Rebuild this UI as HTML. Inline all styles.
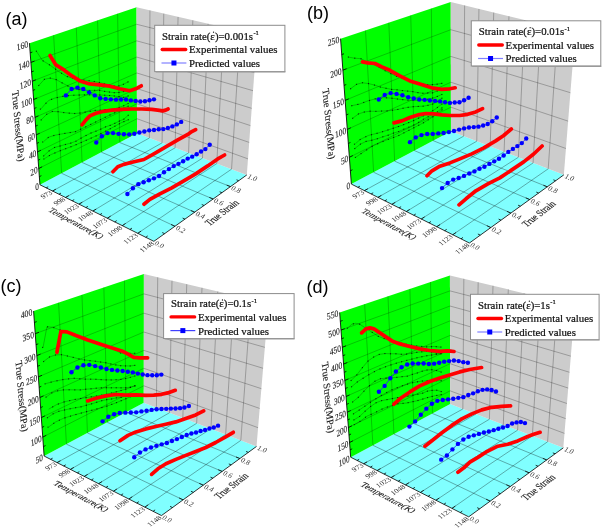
<!DOCTYPE html>
<html><head><meta charset="utf-8"><style>html,body{margin:0;padding:0;background:#fff;}svg{display:block;will-change:transform;} text{-webkit-font-smoothing:antialiased;}</style></head><body>
<svg width="602" height="528" viewBox="0 0 602 528">
<rect width="602" height="528" fill="#fff"/>
<polygon points="39.95,184.78 153.88,241.34 246.8,174.94 137.07,133.36" fill="#80ffff"/>
<polygon points="39.95,184.78 137.07,133.36 136.54,7.33 29.45,43.15" fill="#00ff00"/>
<polygon points="137.07,133.36 246.8,174.94 257.14,35.11 136.54,7.33" fill="#cccccc"/>
<line x1="38.74" y1="168.52" x2="137.01" y2="118.72" stroke="#000" stroke-opacity="0.38" stroke-width="0.6"/>
<line x1="137.01" y1="118.72" x2="247.99" y2="158.86" stroke="#000" stroke-opacity="0.42" stroke-width="0.6"/>
<line x1="37.51" y1="151.88" x2="136.95" y2="103.79" stroke="#000" stroke-opacity="0.38" stroke-width="0.6"/>
<line x1="136.95" y1="103.79" x2="249.2" y2="142.42" stroke="#000" stroke-opacity="0.42" stroke-width="0.6"/>
<line x1="36.25" y1="134.84" x2="136.88" y2="88.54" stroke="#000" stroke-opacity="0.38" stroke-width="0.6"/>
<line x1="136.88" y1="88.54" x2="250.45" y2="125.58" stroke="#000" stroke-opacity="0.42" stroke-width="0.6"/>
<line x1="34.95" y1="117.39" x2="136.82" y2="72.98" stroke="#000" stroke-opacity="0.38" stroke-width="0.6"/>
<line x1="136.82" y1="72.98" x2="251.72" y2="108.35" stroke="#000" stroke-opacity="0.42" stroke-width="0.6"/>
<line x1="33.63" y1="99.51" x2="136.75" y2="57.09" stroke="#000" stroke-opacity="0.38" stroke-width="0.6"/>
<line x1="136.75" y1="57.09" x2="253.03" y2="90.7" stroke="#000" stroke-opacity="0.42" stroke-width="0.6"/>
<line x1="32.27" y1="81.19" x2="136.68" y2="40.85" stroke="#000" stroke-opacity="0.38" stroke-width="0.6"/>
<line x1="136.68" y1="40.85" x2="254.36" y2="72.62" stroke="#000" stroke-opacity="0.42" stroke-width="0.6"/>
<line x1="30.88" y1="62.41" x2="136.61" y2="24.27" stroke="#000" stroke-opacity="0.38" stroke-width="0.6"/>
<line x1="136.61" y1="24.27" x2="255.73" y2="54.1" stroke="#000" stroke-opacity="0.42" stroke-width="0.6"/>
<line x1="61.63" y1="173.29" x2="53.61" y2="35.07" stroke="#000" stroke-opacity="0.38" stroke-width="0.6"/>
<line x1="61.63" y1="173.29" x2="174.95" y2="226.28" stroke="#000" stroke-opacity="0.55" stroke-width="0.6"/>
<line x1="82.09" y1="162.46" x2="76.27" y2="27.49" stroke="#000" stroke-opacity="0.38" stroke-width="0.6"/>
<line x1="82.09" y1="162.46" x2="194.65" y2="212.2" stroke="#000" stroke-opacity="0.55" stroke-width="0.6"/>
<line x1="101.43" y1="152.23" x2="97.57" y2="20.36" stroke="#000" stroke-opacity="0.38" stroke-width="0.6"/>
<line x1="101.43" y1="152.23" x2="213.12" y2="199" stroke="#000" stroke-opacity="0.55" stroke-width="0.6"/>
<line x1="119.73" y1="142.54" x2="117.62" y2="13.66" stroke="#000" stroke-opacity="0.38" stroke-width="0.6"/>
<line x1="119.73" y1="142.54" x2="230.47" y2="186.61" stroke="#000" stroke-opacity="0.55" stroke-width="0.6"/>
<line x1="149.39" y1="138.03" x2="149.95" y2="10.42" stroke="#000" stroke-opacity="0.42" stroke-width="0.6"/>
<line x1="52.52" y1="191.02" x2="149.39" y2="138.03" stroke="#000" stroke-opacity="0.55" stroke-width="0.6"/>
<line x1="162.08" y1="142.84" x2="163.78" y2="13.6" stroke="#000" stroke-opacity="0.42" stroke-width="0.6"/>
<line x1="65.52" y1="197.47" x2="162.08" y2="142.84" stroke="#000" stroke-opacity="0.55" stroke-width="0.6"/>
<line x1="175.14" y1="147.79" x2="178.07" y2="16.9" stroke="#000" stroke-opacity="0.42" stroke-width="0.6"/>
<line x1="78.97" y1="204.15" x2="175.14" y2="147.79" stroke="#000" stroke-opacity="0.55" stroke-width="0.6"/>
<line x1="188.6" y1="152.89" x2="192.83" y2="20.3" stroke="#000" stroke-opacity="0.42" stroke-width="0.6"/>
<line x1="92.9" y1="211.06" x2="188.6" y2="152.89" stroke="#000" stroke-opacity="0.55" stroke-width="0.6"/>
<line x1="202.48" y1="158.14" x2="208.1" y2="23.81" stroke="#000" stroke-opacity="0.42" stroke-width="0.6"/>
<line x1="107.32" y1="218.22" x2="202.48" y2="158.14" stroke="#000" stroke-opacity="0.55" stroke-width="0.6"/>
<line x1="216.79" y1="163.57" x2="223.88" y2="27.45" stroke="#000" stroke-opacity="0.42" stroke-width="0.6"/>
<line x1="122.28" y1="225.65" x2="216.79" y2="163.57" stroke="#000" stroke-opacity="0.55" stroke-width="0.6"/>
<line x1="231.56" y1="169.16" x2="240.22" y2="31.22" stroke="#000" stroke-opacity="0.42" stroke-width="0.6"/>
<line x1="137.78" y1="233.35" x2="231.56" y2="169.16" stroke="#000" stroke-opacity="0.55" stroke-width="0.6"/>
<polyline points="36.4,51.15 42.39,60.44 50.46,65.43 58.54,71.4 66.61,76.38 76.59,79.41 86.65,80.38 96.73,81.83 106.72,84.47 116.81,86.53 122.84,84.6 128.46,81.68" fill="none" stroke="#000" stroke-width="0.45" stroke-opacity="0.55"/>
<rect x="35.77" y="50.6" width="1.15" height="1.15" fill="#000" fill-opacity="0.7"/>
<rect x="42.6" y="60.36" width="1.15" height="1.15" fill="#000" fill-opacity="0.7"/>
<rect x="48.86" y="64.23" width="1.15" height="1.15" fill="#000" fill-opacity="0.7"/>
<rect x="55.02" y="68.65" width="1.15" height="1.15" fill="#000" fill-opacity="0.7"/>
<rect x="61.02" y="72.71" width="1.15" height="1.15" fill="#000" fill-opacity="0.7"/>
<rect x="66.84" y="76.05" width="1.15" height="1.15" fill="#000" fill-opacity="0.7"/>
<rect x="72.46" y="77.76" width="1.15" height="1.15" fill="#000" fill-opacity="0.7"/>
<rect x="77.95" y="79.03" width="1.15" height="1.15" fill="#000" fill-opacity="0.7"/>
<rect x="83.3" y="79.54" width="1.15" height="1.15" fill="#000" fill-opacity="0.7"/>
<rect x="88.56" y="80.17" width="1.15" height="1.15" fill="#000" fill-opacity="0.7"/>
<rect x="93.73" y="80.91" width="1.15" height="1.15" fill="#000" fill-opacity="0.7"/>
<rect x="98.82" y="81.97" width="1.15" height="1.15" fill="#000" fill-opacity="0.7"/>
<rect x="103.82" y="83.29" width="1.15" height="1.15" fill="#000" fill-opacity="0.7"/>
<rect x="108.72" y="84.43" width="1.15" height="1.15" fill="#000" fill-opacity="0.7"/>
<rect x="113.53" y="85.4" width="1.15" height="1.15" fill="#000" fill-opacity="0.7"/>
<rect x="118.23" y="85.32" width="1.15" height="1.15" fill="#000" fill-opacity="0.7"/>
<rect x="122.84" y="83.73" width="1.15" height="1.15" fill="#000" fill-opacity="0.7"/>
<rect x="127.38" y="81.38" width="1.15" height="1.15" fill="#000" fill-opacity="0.7"/>
<polyline points="41.13,108.77 45.07,104.09 48.94,100.36 54.97,98.02 63.07,96.3 71.19,95.35 81.28,94.93 91.49,94.8 101.74,95.05 111.9,95.68 118.09,96.51 123.25,97.41 126.32,96.71 128.76,95.71" fill="none" stroke="#000" stroke-width="0.45" stroke-opacity="0.55"/>
<rect x="39.83" y="108.52" width="1.15" height="1.15" fill="#000" fill-opacity="0.7"/>
<rect x="45.39" y="102.66" width="1.15" height="1.15" fill="#000" fill-opacity="0.7"/>
<rect x="51" y="98.76" width="1.15" height="1.15" fill="#000" fill-opacity="0.7"/>
<rect x="56.67" y="96.97" width="1.15" height="1.15" fill="#000" fill-opacity="0.7"/>
<rect x="62.27" y="95.78" width="1.15" height="1.15" fill="#000" fill-opacity="0.7"/>
<rect x="67.8" y="95.11" width="1.15" height="1.15" fill="#000" fill-opacity="0.7"/>
<rect x="73.25" y="94.67" width="1.15" height="1.15" fill="#000" fill-opacity="0.7"/>
<rect x="78.61" y="94.45" width="1.15" height="1.15" fill="#000" fill-opacity="0.7"/>
<rect x="83.89" y="94.32" width="1.15" height="1.15" fill="#000" fill-opacity="0.7"/>
<rect x="89.07" y="94.25" width="1.15" height="1.15" fill="#000" fill-opacity="0.7"/>
<rect x="94.17" y="94.31" width="1.15" height="1.15" fill="#000" fill-opacity="0.7"/>
<rect x="99.18" y="94.43" width="1.15" height="1.15" fill="#000" fill-opacity="0.7"/>
<rect x="104.11" y="94.66" width="1.15" height="1.15" fill="#000" fill-opacity="0.7"/>
<rect x="108.96" y="94.96" width="1.15" height="1.15" fill="#000" fill-opacity="0.7"/>
<rect x="113.72" y="95.43" width="1.15" height="1.15" fill="#000" fill-opacity="0.7"/>
<rect x="118.41" y="96.09" width="1.15" height="1.15" fill="#000" fill-opacity="0.7"/>
<rect x="123.01" y="96.76" width="1.15" height="1.15" fill="#000" fill-opacity="0.7"/>
<rect x="127.52" y="95.42" width="1.15" height="1.15" fill="#000" fill-opacity="0.7"/>
<polyline points="43.74,141.51 48.61,137.18 54.72,135.24 63.15,133.69 75.43,131.67 85.63,126.91 97.79,120.92 110.08,114.92 120.38,110.22 124.47,107.77 128.51,106.06" fill="none" stroke="#000" stroke-width="0.45" stroke-opacity="0.55"/>
<rect x="42.13" y="141.43" width="1.15" height="1.15" fill="#000" fill-opacity="0.7"/>
<rect x="47.65" y="136.95" width="1.15" height="1.15" fill="#000" fill-opacity="0.7"/>
<rect x="53.25" y="134.96" width="1.15" height="1.15" fill="#000" fill-opacity="0.7"/>
<rect x="58.8" y="133.81" width="1.15" height="1.15" fill="#000" fill-opacity="0.7"/>
<rect x="64.28" y="132.84" width="1.15" height="1.15" fill="#000" fill-opacity="0.7"/>
<rect x="69.66" y="131.95" width="1.15" height="1.15" fill="#000" fill-opacity="0.7"/>
<rect x="74.95" y="131.05" width="1.15" height="1.15" fill="#000" fill-opacity="0.7"/>
<rect x="80.09" y="128.66" width="1.15" height="1.15" fill="#000" fill-opacity="0.7"/>
<rect x="85.15" y="126.29" width="1.15" height="1.15" fill="#000" fill-opacity="0.7"/>
<rect x="90.14" y="123.84" width="1.15" height="1.15" fill="#000" fill-opacity="0.7"/>
<rect x="95.06" y="121.42" width="1.15" height="1.15" fill="#000" fill-opacity="0.7"/>
<rect x="99.9" y="119.04" width="1.15" height="1.15" fill="#000" fill-opacity="0.7"/>
<rect x="104.68" y="116.71" width="1.15" height="1.15" fill="#000" fill-opacity="0.7"/>
<rect x="109.4" y="114.41" width="1.15" height="1.15" fill="#000" fill-opacity="0.7"/>
<rect x="114.05" y="112.28" width="1.15" height="1.15" fill="#000" fill-opacity="0.7"/>
<rect x="118.64" y="110.18" width="1.15" height="1.15" fill="#000" fill-opacity="0.7"/>
<rect x="123.16" y="107.64" width="1.15" height="1.15" fill="#000" fill-opacity="0.7"/>
<rect x="127.62" y="105.63" width="1.15" height="1.15" fill="#000" fill-opacity="0.7"/>
<polyline points="44.58,158.63 50.65,154.74 60.95,150.42 73.31,145.87 85.77,140.49 98.17,134.97 110.67,128.52 121.1,122.82 128.39,119.73" fill="none" stroke="#000" stroke-width="0.45" stroke-opacity="0.55"/>
<rect x="43.32" y="158.41" width="1.15" height="1.15" fill="#000" fill-opacity="0.7"/>
<rect x="48.84" y="154.97" width="1.15" height="1.15" fill="#000" fill-opacity="0.7"/>
<rect x="54.33" y="152.39" width="1.15" height="1.15" fill="#000" fill-opacity="0.7"/>
<rect x="59.75" y="150.12" width="1.15" height="1.15" fill="#000" fill-opacity="0.7"/>
<rect x="65.11" y="148.11" width="1.15" height="1.15" fill="#000" fill-opacity="0.7"/>
<rect x="70.38" y="146.17" width="1.15" height="1.15" fill="#000" fill-opacity="0.7"/>
<rect x="75.56" y="144.08" width="1.15" height="1.15" fill="#000" fill-opacity="0.7"/>
<rect x="80.66" y="141.88" width="1.15" height="1.15" fill="#000" fill-opacity="0.7"/>
<rect x="85.68" y="139.7" width="1.15" height="1.15" fill="#000" fill-opacity="0.7"/>
<rect x="90.63" y="137.5" width="1.15" height="1.15" fill="#000" fill-opacity="0.7"/>
<rect x="95.51" y="135.33" width="1.15" height="1.15" fill="#000" fill-opacity="0.7"/>
<rect x="100.31" y="133" width="1.15" height="1.15" fill="#000" fill-opacity="0.7"/>
<rect x="105.04" y="130.56" width="1.15" height="1.15" fill="#000" fill-opacity="0.7"/>
<rect x="109.71" y="128.15" width="1.15" height="1.15" fill="#000" fill-opacity="0.7"/>
<rect x="114.31" y="125.65" width="1.15" height="1.15" fill="#000" fill-opacity="0.7"/>
<rect x="118.85" y="123.17" width="1.15" height="1.15" fill="#000" fill-opacity="0.7"/>
<rect x="123.33" y="121.06" width="1.15" height="1.15" fill="#000" fill-opacity="0.7"/>
<rect x="127.76" y="119.18" width="1.15" height="1.15" fill="#000" fill-opacity="0.7"/>
<polyline points="38.75,85.5 44.38,79.31 50.26,78.1 56.19,79.61 62.11,82.88 67.88,85.97 73.52,88.81 78.95,89.51 84.27,90.07 89.48,90.43 94.59,90.37 99.62,90.38 104.58,91.39 109.45,92.06 114.23,92.68 118.91,92.46 123.51,91.58 128.04,90.75" fill="none" stroke="#000" stroke-width="0.45" stroke-opacity="0.55"/>
<rect x="38.18" y="84.93" width="1.15" height="1.15" fill="#000" fill-opacity="0.7"/>
<rect x="43.81" y="78.74" width="1.15" height="1.15" fill="#000" fill-opacity="0.7"/>
<rect x="49.69" y="77.53" width="1.15" height="1.15" fill="#000" fill-opacity="0.7"/>
<rect x="55.62" y="79.04" width="1.15" height="1.15" fill="#000" fill-opacity="0.7"/>
<rect x="61.54" y="82.31" width="1.15" height="1.15" fill="#000" fill-opacity="0.7"/>
<rect x="67.31" y="85.4" width="1.15" height="1.15" fill="#000" fill-opacity="0.7"/>
<rect x="72.95" y="88.24" width="1.15" height="1.15" fill="#000" fill-opacity="0.7"/>
<rect x="78.38" y="88.94" width="1.15" height="1.15" fill="#000" fill-opacity="0.7"/>
<rect x="83.7" y="89.5" width="1.15" height="1.15" fill="#000" fill-opacity="0.7"/>
<rect x="88.91" y="89.86" width="1.15" height="1.15" fill="#000" fill-opacity="0.7"/>
<rect x="94.02" y="89.8" width="1.15" height="1.15" fill="#000" fill-opacity="0.7"/>
<rect x="99.05" y="89.81" width="1.15" height="1.15" fill="#000" fill-opacity="0.7"/>
<rect x="104.01" y="90.82" width="1.15" height="1.15" fill="#000" fill-opacity="0.7"/>
<rect x="108.88" y="91.49" width="1.15" height="1.15" fill="#000" fill-opacity="0.7"/>
<rect x="113.66" y="92.11" width="1.15" height="1.15" fill="#000" fill-opacity="0.7"/>
<rect x="118.34" y="91.89" width="1.15" height="1.15" fill="#000" fill-opacity="0.7"/>
<rect x="122.94" y="91.01" width="1.15" height="1.15" fill="#000" fill-opacity="0.7"/>
<rect x="127.47" y="90.18" width="1.15" height="1.15" fill="#000" fill-opacity="0.7"/>
<polyline points="41.16,119.95 46.69,114.29 52.33,111.47 58.06,111.68 63.72,112.55 69.25,113.15 74.67,113.5 79.96,113.06 85.14,112.08 90.24,111.28 95.25,110.38 100.2,110.28 105.06,109.71 109.85,109.7 114.54,108.83 119.16,107.48 123.69,105.72 128.16,103.49" fill="none" stroke="#000" stroke-width="0.45" stroke-opacity="0.55"/>
<rect x="40.59" y="119.38" width="1.15" height="1.15" fill="#000" fill-opacity="0.7"/>
<rect x="46.12" y="113.72" width="1.15" height="1.15" fill="#000" fill-opacity="0.7"/>
<rect x="51.76" y="110.9" width="1.15" height="1.15" fill="#000" fill-opacity="0.7"/>
<rect x="57.49" y="111.11" width="1.15" height="1.15" fill="#000" fill-opacity="0.7"/>
<rect x="63.15" y="111.98" width="1.15" height="1.15" fill="#000" fill-opacity="0.7"/>
<rect x="68.68" y="112.58" width="1.15" height="1.15" fill="#000" fill-opacity="0.7"/>
<rect x="74.1" y="112.93" width="1.15" height="1.15" fill="#000" fill-opacity="0.7"/>
<rect x="79.39" y="112.49" width="1.15" height="1.15" fill="#000" fill-opacity="0.7"/>
<rect x="84.57" y="111.51" width="1.15" height="1.15" fill="#000" fill-opacity="0.7"/>
<rect x="89.67" y="110.71" width="1.15" height="1.15" fill="#000" fill-opacity="0.7"/>
<rect x="94.68" y="109.81" width="1.15" height="1.15" fill="#000" fill-opacity="0.7"/>
<rect x="99.63" y="109.71" width="1.15" height="1.15" fill="#000" fill-opacity="0.7"/>
<rect x="104.49" y="109.14" width="1.15" height="1.15" fill="#000" fill-opacity="0.7"/>
<rect x="109.28" y="109.13" width="1.15" height="1.15" fill="#000" fill-opacity="0.7"/>
<rect x="113.97" y="108.26" width="1.15" height="1.15" fill="#000" fill-opacity="0.7"/>
<rect x="118.59" y="106.91" width="1.15" height="1.15" fill="#000" fill-opacity="0.7"/>
<rect x="123.12" y="105.15" width="1.15" height="1.15" fill="#000" fill-opacity="0.7"/>
<rect x="127.59" y="102.92" width="1.15" height="1.15" fill="#000" fill-opacity="0.7"/>
<polyline points="43.67,155.89 49.1,150.87 54.56,147.47 60.05,146.01 65.45,144.48 70.77,143.12 75.97,141.19 81.04,138.13 86.06,135.48 91.02,132.99 95.93,131.19 100.75,129.14 105.5,126.9 110.2,125.37 114.82,123.33 119.38,121.06 123.87,119.14 128.28,115.28" fill="none" stroke="#000" stroke-width="0.45" stroke-opacity="0.55"/>
<rect x="43.1" y="155.32" width="1.15" height="1.15" fill="#000" fill-opacity="0.7"/>
<rect x="48.53" y="150.3" width="1.15" height="1.15" fill="#000" fill-opacity="0.7"/>
<rect x="53.99" y="146.9" width="1.15" height="1.15" fill="#000" fill-opacity="0.7"/>
<rect x="59.48" y="145.44" width="1.15" height="1.15" fill="#000" fill-opacity="0.7"/>
<rect x="64.88" y="143.91" width="1.15" height="1.15" fill="#000" fill-opacity="0.7"/>
<rect x="70.2" y="142.55" width="1.15" height="1.15" fill="#000" fill-opacity="0.7"/>
<rect x="75.4" y="140.62" width="1.15" height="1.15" fill="#000" fill-opacity="0.7"/>
<rect x="80.47" y="137.56" width="1.15" height="1.15" fill="#000" fill-opacity="0.7"/>
<rect x="85.49" y="134.91" width="1.15" height="1.15" fill="#000" fill-opacity="0.7"/>
<rect x="90.45" y="132.42" width="1.15" height="1.15" fill="#000" fill-opacity="0.7"/>
<rect x="95.36" y="130.62" width="1.15" height="1.15" fill="#000" fill-opacity="0.7"/>
<rect x="100.18" y="128.57" width="1.15" height="1.15" fill="#000" fill-opacity="0.7"/>
<rect x="104.93" y="126.33" width="1.15" height="1.15" fill="#000" fill-opacity="0.7"/>
<rect x="109.63" y="124.8" width="1.15" height="1.15" fill="#000" fill-opacity="0.7"/>
<rect x="114.25" y="122.76" width="1.15" height="1.15" fill="#000" fill-opacity="0.7"/>
<rect x="118.81" y="120.49" width="1.15" height="1.15" fill="#000" fill-opacity="0.7"/>
<rect x="123.3" y="118.57" width="1.15" height="1.15" fill="#000" fill-opacity="0.7"/>
<rect x="127.71" y="114.71" width="1.15" height="1.15" fill="#000" fill-opacity="0.7"/>
<line x1="39.95" y1="184.78" x2="29.45" y2="43.15" stroke="#000" stroke-width="0.85"/>
<line x1="39.95" y1="184.78" x2="153.88" y2="241.34" stroke="#000" stroke-width="0.8"/>
<line x1="153.88" y1="241.34" x2="246.8" y2="174.94" stroke="#000" stroke-width="0.8"/>
<line x1="46.18" y1="187.87" x2="48.19" y2="186.79" stroke="#000" stroke-width="0.8"/>
<line x1="52.52" y1="191.02" x2="55.85" y2="189.19" stroke="#000" stroke-width="0.8"/>
<line x1="58.96" y1="194.22" x2="60.97" y2="193.1" stroke="#000" stroke-width="0.8"/>
<line x1="65.52" y1="197.47" x2="68.85" y2="195.59" stroke="#000" stroke-width="0.8"/>
<line x1="72.19" y1="200.78" x2="74.19" y2="199.63" stroke="#000" stroke-width="0.8"/>
<line x1="78.97" y1="204.15" x2="82.3" y2="202.2" stroke="#000" stroke-width="0.8"/>
<line x1="85.87" y1="207.57" x2="87.87" y2="206.38" stroke="#000" stroke-width="0.8"/>
<line x1="92.9" y1="211.06" x2="96.21" y2="209.05" stroke="#000" stroke-width="0.8"/>
<line x1="100.05" y1="214.61" x2="102.04" y2="213.38" stroke="#000" stroke-width="0.8"/>
<line x1="107.32" y1="218.22" x2="110.63" y2="216.14" stroke="#000" stroke-width="0.8"/>
<line x1="114.73" y1="221.9" x2="116.71" y2="220.62" stroke="#000" stroke-width="0.8"/>
<line x1="122.28" y1="225.65" x2="125.57" y2="223.48" stroke="#000" stroke-width="0.8"/>
<line x1="129.96" y1="229.46" x2="131.93" y2="228.14" stroke="#000" stroke-width="0.8"/>
<line x1="137.78" y1="233.35" x2="141.06" y2="231.11" stroke="#000" stroke-width="0.8"/>
<line x1="145.76" y1="237.3" x2="147.72" y2="235.93" stroke="#000" stroke-width="0.8"/>
<line x1="164.59" y1="233.68" x2="162.25" y2="232.55" stroke="#000" stroke-width="0.8"/>
<line x1="174.95" y1="226.28" x2="171.07" y2="224.47" stroke="#000" stroke-width="0.8"/>
<line x1="184.96" y1="219.13" x2="182.64" y2="218.07" stroke="#000" stroke-width="0.8"/>
<line x1="194.65" y1="212.2" x2="190.81" y2="210.51" stroke="#000" stroke-width="0.8"/>
<line x1="204.03" y1="205.5" x2="201.74" y2="204.51" stroke="#000" stroke-width="0.8"/>
<line x1="213.12" y1="199" x2="209.33" y2="197.41" stroke="#000" stroke-width="0.8"/>
<line x1="221.93" y1="192.71" x2="219.66" y2="191.78" stroke="#000" stroke-width="0.8"/>
<line x1="230.47" y1="186.61" x2="226.72" y2="185.11" stroke="#000" stroke-width="0.8"/>
<line x1="238.76" y1="180.69" x2="236.52" y2="179.82" stroke="#000" stroke-width="0.8"/>
<line x1="39.35" y1="176.69" x2="41.37" y2="175.65" stroke="#000" stroke-width="0.8"/>
<line x1="38.74" y1="168.52" x2="42.12" y2="166.81" stroke="#000" stroke-width="0.8"/>
<line x1="38.13" y1="160.25" x2="40.17" y2="159.24" stroke="#000" stroke-width="0.8"/>
<line x1="37.51" y1="151.88" x2="40.93" y2="150.22" stroke="#000" stroke-width="0.8"/>
<line x1="36.88" y1="143.41" x2="38.95" y2="142.43" stroke="#000" stroke-width="0.8"/>
<line x1="36.25" y1="134.84" x2="39.72" y2="133.24" stroke="#000" stroke-width="0.8"/>
<line x1="35.6" y1="126.17" x2="37.7" y2="125.23" stroke="#000" stroke-width="0.8"/>
<line x1="34.95" y1="117.39" x2="38.47" y2="115.86" stroke="#000" stroke-width="0.8"/>
<line x1="34.29" y1="108.51" x2="36.42" y2="107.6" stroke="#000" stroke-width="0.8"/>
<line x1="33.63" y1="99.51" x2="37.2" y2="98.05" stroke="#000" stroke-width="0.8"/>
<line x1="32.95" y1="90.41" x2="35.11" y2="89.55" stroke="#000" stroke-width="0.8"/>
<line x1="32.27" y1="81.19" x2="35.89" y2="79.79" stroke="#000" stroke-width="0.8"/>
<line x1="31.58" y1="71.86" x2="33.77" y2="71.04" stroke="#000" stroke-width="0.8"/>
<line x1="30.88" y1="62.41" x2="34.55" y2="61.09" stroke="#000" stroke-width="0.8"/>
<line x1="30.17" y1="52.84" x2="32.39" y2="52.07" stroke="#000" stroke-width="0.8"/>
<polyline points="50,55.5 55.9,64.9 63.9,69.9 71.9,75.9 79.9,80.9 89.8,83.9 99.8,84.8 109.8,86.2 119.7,88.8 129.7,90.8 135.7,88.8 141.3,85.8" fill="none" stroke="#ff0000" stroke-width="3.7" stroke-linecap="round" stroke-linejoin="round"/>
<polyline points="65.9,95.4 71.58,88.93 77.43,87.6 83.29,89.06 89.09,92.34 94.75,95.42 100.28,98.26 105.63,98.88 110.87,99.37 116.01,99.65 121.05,99.51 126.01,99.44 130.88,100.4 135.66,101.01 140.35,101.57 144.96,101.26 149.49,100.29 153.96,99.36" fill="none" stroke="#2020ff" stroke-width="0.8"/>
<circle cx="65.9" cy="95.4" r="2.2" fill="#0000ff"/>
<circle cx="71.58" cy="88.93" r="2.2" fill="#0000ff"/>
<circle cx="77.43" cy="87.6" r="2.2" fill="#0000ff"/>
<circle cx="83.29" cy="89.06" r="2.2" fill="#0000ff"/>
<circle cx="89.09" cy="92.34" r="2.2" fill="#0000ff"/>
<circle cx="94.75" cy="95.42" r="2.2" fill="#0000ff"/>
<circle cx="100.28" cy="98.26" r="2.2" fill="#0000ff"/>
<circle cx="105.63" cy="98.88" r="2.2" fill="#0000ff"/>
<circle cx="110.87" cy="99.37" r="2.2" fill="#0000ff"/>
<circle cx="116.01" cy="99.65" r="2.2" fill="#0000ff"/>
<circle cx="121.05" cy="99.51" r="2.2" fill="#0000ff"/>
<circle cx="126.01" cy="99.44" r="2.2" fill="#0000ff"/>
<circle cx="130.88" cy="100.4" r="2.2" fill="#0000ff"/>
<circle cx="135.66" cy="101.01" r="2.2" fill="#0000ff"/>
<circle cx="140.35" cy="101.57" r="2.2" fill="#0000ff"/>
<circle cx="144.96" cy="101.26" r="2.2" fill="#0000ff"/>
<circle cx="149.49" cy="100.29" r="2.2" fill="#0000ff"/>
<circle cx="153.96" cy="99.36" r="2.2" fill="#0000ff"/>
<polyline points="82,124.9 86,119.9 89.9,115.9 95.9,113.3 103.9,111.3 111.9,110.1 121.8,109.4 131.8,109 141.8,109 151.7,109.4 157.7,110.1 162.7,110.9 165.7,110.1 168.1,109" fill="none" stroke="#ff0000" stroke-width="3.7" stroke-linecap="round" stroke-linejoin="round"/>
<polyline points="96.28,142.52 101.88,136.31 107.48,133.11 113.07,133.12 118.55,133.83 123.92,134.25 129.18,134.42 134.33,133.75 139.38,132.52 144.34,131.49 149.22,130.35 154.01,130.07 158.72,129.29 163.34,129.1 167.89,128.01 172.38,126.42 176.81,124.41 181.18,121.91" fill="none" stroke="#2020ff" stroke-width="0.8"/>
<circle cx="96.28" cy="142.52" r="2.2" fill="#0000ff"/>
<circle cx="101.88" cy="136.31" r="2.2" fill="#0000ff"/>
<circle cx="107.48" cy="133.11" r="2.2" fill="#0000ff"/>
<circle cx="113.07" cy="133.12" r="2.2" fill="#0000ff"/>
<circle cx="118.55" cy="133.83" r="2.2" fill="#0000ff"/>
<circle cx="123.92" cy="134.25" r="2.2" fill="#0000ff"/>
<circle cx="129.18" cy="134.42" r="2.2" fill="#0000ff"/>
<circle cx="134.33" cy="133.75" r="2.2" fill="#0000ff"/>
<circle cx="139.38" cy="132.52" r="2.2" fill="#0000ff"/>
<circle cx="144.34" cy="131.49" r="2.2" fill="#0000ff"/>
<circle cx="149.22" cy="130.35" r="2.2" fill="#0000ff"/>
<circle cx="154.01" cy="130.07" r="2.2" fill="#0000ff"/>
<circle cx="158.72" cy="129.29" r="2.2" fill="#0000ff"/>
<circle cx="163.34" cy="129.1" r="2.2" fill="#0000ff"/>
<circle cx="167.89" cy="128.01" r="2.2" fill="#0000ff"/>
<circle cx="172.38" cy="126.42" r="2.2" fill="#0000ff"/>
<circle cx="176.81" cy="124.41" r="2.2" fill="#0000ff"/>
<circle cx="181.18" cy="121.91" r="2.2" fill="#0000ff"/>
<polyline points="112.9,171.7 117.8,166.8 123.8,164.4 132,162.3 143.9,159.5 153.9,153.9 165.8,146.9 177.8,139.9 187.8,134.4 191.8,131.6 195.7,129.6" fill="none" stroke="#ff0000" stroke-width="3.7" stroke-linecap="round" stroke-linejoin="round"/>
<polyline points="127.42,194.05 132.9,188.23 138.3,184.16 143.62,182.21 148.85,180.2 153.98,178.37 159.03,175.94 164.01,172.29 168.91,169.1 173.73,166.09 178.46,163.83 183.12,161.32 187.71,158.6 192.21,156.67 196.65,154.18 201.04,151.46 205.35,149.11 209.7,144.7" fill="none" stroke="#2020ff" stroke-width="0.8"/>
<circle cx="127.42" cy="194.05" r="2.2" fill="#0000ff"/>
<circle cx="132.9" cy="188.23" r="2.2" fill="#0000ff"/>
<circle cx="138.3" cy="184.16" r="2.2" fill="#0000ff"/>
<circle cx="143.62" cy="182.21" r="2.2" fill="#0000ff"/>
<circle cx="148.85" cy="180.2" r="2.2" fill="#0000ff"/>
<circle cx="153.98" cy="178.37" r="2.2" fill="#0000ff"/>
<circle cx="159.03" cy="175.94" r="2.2" fill="#0000ff"/>
<circle cx="164.01" cy="172.29" r="2.2" fill="#0000ff"/>
<circle cx="168.91" cy="169.1" r="2.2" fill="#0000ff"/>
<circle cx="173.73" cy="166.09" r="2.2" fill="#0000ff"/>
<circle cx="178.46" cy="163.83" r="2.2" fill="#0000ff"/>
<circle cx="183.12" cy="161.32" r="2.2" fill="#0000ff"/>
<circle cx="187.71" cy="158.6" r="2.2" fill="#0000ff"/>
<circle cx="192.21" cy="156.67" r="2.2" fill="#0000ff"/>
<circle cx="196.65" cy="154.18" r="2.2" fill="#0000ff"/>
<circle cx="201.04" cy="151.46" r="2.2" fill="#0000ff"/>
<circle cx="205.35" cy="149.11" r="2.2" fill="#0000ff"/>
<circle cx="209.7" cy="144.7" r="2.2" fill="#0000ff"/>
<polyline points="143.9,204.2 149.9,199.4 159.9,193.8 171.8,187.8 183.8,180.9 195.7,173.9 207.7,165.9 217.7,158.9 224.6,155" fill="none" stroke="#ff0000" stroke-width="3.7" stroke-linecap="round" stroke-linejoin="round"/>
<text transform="matrix(0.75,-0.4,0.07,1,39.95,184.78)" x="-1.6" y="3.4" text-anchor="end" font-family="Liberation Serif" font-size="9.5" fill="#1a1a1a" stroke="#1a1a1a" stroke-width="0.12" >0</text>
<text transform="matrix(0.76,-0.38,0.07,1,38.74,168.52)" x="-1.6" y="3.4" text-anchor="end" font-family="Liberation Serif" font-size="9.5" fill="#1a1a1a" stroke="#1a1a1a" stroke-width="0.12" >20</text>
<text transform="matrix(0.77,-0.37,0.07,1,37.51,151.88)" x="-1.6" y="3.4" text-anchor="end" font-family="Liberation Serif" font-size="9.5" fill="#1a1a1a" stroke="#1a1a1a" stroke-width="0.12" >40</text>
<text transform="matrix(0.77,-0.36,0.07,1,36.25,134.84)" x="-1.6" y="3.4" text-anchor="end" font-family="Liberation Serif" font-size="9.5" fill="#1a1a1a" stroke="#1a1a1a" stroke-width="0.12" >60</text>
<text transform="matrix(0.78,-0.34,0.07,1,34.95,117.39)" x="-1.6" y="3.4" text-anchor="end" font-family="Liberation Serif" font-size="9.5" fill="#1a1a1a" stroke="#1a1a1a" stroke-width="0.12" >80</text>
<text transform="matrix(0.79,-0.32,0.07,1,33.63,99.51)" x="-1.6" y="3.4" text-anchor="end" font-family="Liberation Serif" font-size="9.5" fill="#1a1a1a" stroke="#1a1a1a" stroke-width="0.12" >100</text>
<text transform="matrix(0.79,-0.31,0.07,1,32.27,81.19)" x="-1.6" y="3.4" text-anchor="end" font-family="Liberation Serif" font-size="9.5" fill="#1a1a1a" stroke="#1a1a1a" stroke-width="0.12" >120</text>
<text transform="matrix(0.8,-0.29,0.07,1,30.88,62.41)" x="-1.6" y="3.4" text-anchor="end" font-family="Liberation Serif" font-size="9.5" fill="#1a1a1a" stroke="#1a1a1a" stroke-width="0.12" >140</text>
<text transform="matrix(0.81,-0.27,0.07,1,29.45,43.15)" x="-1.6" y="3.4" text-anchor="end" font-family="Liberation Serif" font-size="9.5" fill="#1a1a1a" stroke="#1a1a1a" stroke-width="0.12" >160</text>
<text transform="matrix(0.83,-0.46,0.65,0.62,51.18,191.75)" x="0" y="3" text-anchor="end" font-family="Liberation Serif" font-size="8" fill="#2a2a2a" stroke="#2a2a2a" stroke-width="0" >973</text>
<text transform="matrix(0.83,-0.47,0.65,0.62,64.18,198.23)" x="0" y="3" text-anchor="end" font-family="Liberation Serif" font-size="8" fill="#2a2a2a" stroke="#2a2a2a" stroke-width="0" >998</text>
<text transform="matrix(0.82,-0.48,0.66,0.61,77.63,204.93)" x="0" y="3" text-anchor="end" font-family="Liberation Serif" font-size="8" fill="#2a2a2a" stroke="#2a2a2a" stroke-width="0" >1023</text>
<text transform="matrix(0.81,-0.49,0.66,0.61,91.56,211.87)" x="0" y="3" text-anchor="end" font-family="Liberation Serif" font-size="8" fill="#2a2a2a" stroke="#2a2a2a" stroke-width="0" >1048</text>
<text transform="matrix(0.8,-0.51,0.67,0.6,105.99,219.06)" x="0" y="3" text-anchor="end" font-family="Liberation Serif" font-size="8" fill="#2a2a2a" stroke="#2a2a2a" stroke-width="0" >1073</text>
<text transform="matrix(0.79,-0.52,0.67,0.6,120.95,226.52)" x="0" y="3" text-anchor="end" font-family="Liberation Serif" font-size="8" fill="#2a2a2a" stroke="#2a2a2a" stroke-width="0" >1098</text>
<text transform="matrix(0.78,-0.54,0.68,0.59,136.47,234.25)" x="0" y="3" text-anchor="end" font-family="Liberation Serif" font-size="8" fill="#2a2a2a" stroke="#2a2a2a" stroke-width="0" >1123</text>
<text transform="matrix(0.77,-0.55,0.68,0.58,152.57,242.27)" x="0" y="3" text-anchor="end" font-family="Liberation Serif" font-size="8" fill="#2a2a2a" stroke="#2a2a2a" stroke-width="0" >1148</text>
<text transform="matrix(0.85,0.42,-0.58,0.75,155.59,242.19)" x="0" y="3" text-anchor="start" font-family="Liberation Serif" font-size="7.8" fill="#333" stroke="#333" stroke-width="0" >0.0</text>
<text transform="matrix(0.86,0.4,-0.57,0.76,176.64,227.08)" x="0" y="3" text-anchor="start" font-family="Liberation Serif" font-size="7.8" fill="#333" stroke="#333" stroke-width="0" >0.2</text>
<text transform="matrix(0.87,0.38,-0.56,0.77,196.33,212.94)" x="0" y="3" text-anchor="start" font-family="Liberation Serif" font-size="7.8" fill="#333" stroke="#333" stroke-width="0" >0.4</text>
<text transform="matrix(0.88,0.37,-0.55,0.78,214.78,199.7)" x="0" y="3" text-anchor="start" font-family="Liberation Serif" font-size="7.8" fill="#333" stroke="#333" stroke-width="0" >0.6</text>
<text transform="matrix(0.88,0.35,-0.54,0.78,232.11,187.26)" x="0" y="3" text-anchor="start" font-family="Liberation Serif" font-size="7.8" fill="#333" stroke="#333" stroke-width="0" >0.8</text>
<text transform="matrix(0.89,0.34,-0.53,0.79,248.41,175.55)" x="0" y="3" text-anchor="start" font-family="Liberation Serif" font-size="7.8" fill="#333" stroke="#333" stroke-width="0" >1.0</text>
<text transform="matrix(0.88,0.47,-0.85,0.52,73.43,224.83)" x="0" y="0" text-anchor="middle" font-family="Liberation Serif" font-size="9.3" fill="#1a1a1a" stroke="#1a1a1a" stroke-width="0.12" >Temperature(K)</text>
<text transform="matrix(0.77,-0.59,0.94,0.74,224.49,214.84)" x="0" y="0" text-anchor="middle" font-family="Liberation Serif" font-size="8.7" fill="#1a1a1a" stroke="#1a1a1a" stroke-width="0.12" >True Strain</text>
<text transform="matrix(0.09,1,-0.97,0.25,15.05,126.82)" x="0" y="0" text-anchor="middle" font-family="Liberation Serif" font-size="10" fill="#1a1a1a" stroke="#1a1a1a" stroke-width="0.12" >True Stress(MPa)</text>
<rect x="154.7" y="25.3" width="130.2" height="46.3" fill="#fff" stroke="#8c8c8c" stroke-width="1"/>
<line x1="155.7" y1="71.9" x2="285.4" y2="71.9" stroke="#9a9a9a" stroke-width="1.2"/>
<text x="162.1" y="39.6" font-family="Liberation Serif" font-size="10.8" fill="#111" stroke="#111" stroke-width="0.22">Strain rate(&#949;)=0.001s<tspan dx="0.3" dy="-4.2" font-size="6.5">-1</tspan></text>
<circle cx="213.55" cy="32.2" r="0.65" fill="#111"/>
<line x1="162.2" y1="49.5" x2="185.7" y2="49.5" stroke="#ff0000" stroke-width="3.4" stroke-linecap="round"/>
<text x="189" y="53.3" font-family="Liberation Serif" font-size="10.8" fill="#111" stroke="#111" stroke-width="0.22">Experimental values</text>
<line x1="161.5" y1="63" x2="186.4" y2="63" stroke="#8080ff" stroke-width="1.2"/>
<rect x="171.45" y="60.5" width="5" height="5" fill="#0000ff"/>
<text x="189" y="66.8" font-family="Liberation Serif" font-size="10.8" fill="#111" stroke="#111" stroke-width="0.22">Predicted values</text>
<text x="5.5" y="24.6" font-family="Liberation Sans" font-size="18">(a)</text>
<polygon points="351.35,184.08 469.38,243.04 563.85,174.84 450.97,131.25" fill="#80ffff"/>
<polygon points="351.35,184.08 450.97,131.25 450.74,2.03 340.55,38.65" fill="#00ff00"/>
<polygon points="450.97,131.25 563.85,174.84 575.22,32.33 450.74,2.03" fill="#cccccc"/>
<line x1="349.36" y1="157.27" x2="450.93" y2="107.16" stroke="#000" stroke-opacity="0.38" stroke-width="0.6"/>
<line x1="450.93" y1="107.16" x2="565.95" y2="148.51" stroke="#000" stroke-opacity="0.42" stroke-width="0.6"/>
<line x1="347.29" y1="129.38" x2="450.88" y2="82.23" stroke="#000" stroke-opacity="0.38" stroke-width="0.6"/>
<line x1="450.88" y1="82.23" x2="568.13" y2="121.15" stroke="#000" stroke-opacity="0.42" stroke-width="0.6"/>
<line x1="345.13" y1="100.36" x2="450.84" y2="56.43" stroke="#000" stroke-opacity="0.38" stroke-width="0.6"/>
<line x1="450.84" y1="56.43" x2="570.4" y2="92.71" stroke="#000" stroke-opacity="0.42" stroke-width="0.6"/>
<line x1="342.89" y1="70.14" x2="450.79" y2="29.71" stroke="#000" stroke-opacity="0.38" stroke-width="0.6"/>
<line x1="450.79" y1="29.71" x2="572.76" y2="63.13" stroke="#000" stroke-opacity="0.42" stroke-width="0.6"/>
<line x1="373.63" y1="172.27" x2="365.47" y2="30.37" stroke="#000" stroke-opacity="0.38" stroke-width="0.6"/>
<line x1="373.63" y1="172.27" x2="490.83" y2="227.55" stroke="#000" stroke-opacity="0.55" stroke-width="0.6"/>
<line x1="394.64" y1="161.13" x2="388.81" y2="22.61" stroke="#000" stroke-opacity="0.38" stroke-width="0.6"/>
<line x1="394.64" y1="161.13" x2="510.88" y2="213.08" stroke="#000" stroke-opacity="0.55" stroke-width="0.6"/>
<line x1="414.46" y1="150.61" x2="410.72" y2="15.33" stroke="#000" stroke-opacity="0.38" stroke-width="0.6"/>
<line x1="414.46" y1="150.61" x2="529.65" y2="199.53" stroke="#000" stroke-opacity="0.55" stroke-width="0.6"/>
<line x1="433.21" y1="140.67" x2="431.33" y2="8.48" stroke="#000" stroke-opacity="0.38" stroke-width="0.6"/>
<line x1="433.21" y1="140.67" x2="547.28" y2="186.8" stroke="#000" stroke-opacity="0.55" stroke-width="0.6"/>
<line x1="463.69" y1="136.17" x2="464.63" y2="5.41" stroke="#000" stroke-opacity="0.42" stroke-width="0.6"/>
<line x1="364.43" y1="190.61" x2="463.69" y2="136.17" stroke="#000" stroke-opacity="0.55" stroke-width="0.6"/>
<line x1="476.78" y1="141.22" x2="478.95" y2="8.9" stroke="#000" stroke-opacity="0.42" stroke-width="0.6"/>
<line x1="377.94" y1="197.36" x2="476.78" y2="141.22" stroke="#000" stroke-opacity="0.55" stroke-width="0.6"/>
<line x1="490.24" y1="146.42" x2="493.73" y2="12.49" stroke="#000" stroke-opacity="0.42" stroke-width="0.6"/>
<line x1="391.9" y1="204.33" x2="490.24" y2="146.42" stroke="#000" stroke-opacity="0.55" stroke-width="0.6"/>
<line x1="504.1" y1="151.77" x2="508.98" y2="16.2" stroke="#000" stroke-opacity="0.42" stroke-width="0.6"/>
<line x1="406.34" y1="211.55" x2="504.1" y2="151.77" stroke="#000" stroke-opacity="0.55" stroke-width="0.6"/>
<line x1="518.37" y1="157.28" x2="524.72" y2="20.04" stroke="#000" stroke-opacity="0.42" stroke-width="0.6"/>
<line x1="421.28" y1="219.01" x2="518.37" y2="157.28" stroke="#000" stroke-opacity="0.55" stroke-width="0.6"/>
<line x1="533.07" y1="162.96" x2="541" y2="24" stroke="#000" stroke-opacity="0.42" stroke-width="0.6"/>
<line x1="436.74" y1="226.73" x2="533.07" y2="162.96" stroke="#000" stroke-opacity="0.55" stroke-width="0.6"/>
<line x1="548.23" y1="168.81" x2="557.82" y2="28.09" stroke="#000" stroke-opacity="0.42" stroke-width="0.6"/>
<line x1="452.77" y1="234.74" x2="548.23" y2="168.81" stroke="#000" stroke-opacity="0.55" stroke-width="0.6"/>
<polyline points="348.29,57.06 353.82,58.09 360.86,58.73 367.92,62.13 376,65.55 386.01,71.15 396.12,76.16 406.22,79.2 418.25,83.15 428.35,84.81 436.42,84.29 441.96,83.34" fill="none" stroke="#000" stroke-width="0.45" stroke-opacity="0.55"/>
<rect x="347.8" y="56.5" width="1.15" height="1.15" fill="#000" fill-opacity="0.7"/>
<rect x="354.2" y="57.6" width="1.15" height="1.15" fill="#000" fill-opacity="0.7"/>
<rect x="360.45" y="58.24" width="1.15" height="1.15" fill="#000" fill-opacity="0.7"/>
<rect x="366.71" y="61.25" width="1.15" height="1.15" fill="#000" fill-opacity="0.7"/>
<rect x="372.8" y="63.87" width="1.15" height="1.15" fill="#000" fill-opacity="0.7"/>
<rect x="378.79" y="66.86" width="1.15" height="1.15" fill="#000" fill-opacity="0.7"/>
<rect x="384.66" y="70.14" width="1.15" height="1.15" fill="#000" fill-opacity="0.7"/>
<rect x="390.38" y="73.03" width="1.15" height="1.15" fill="#000" fill-opacity="0.7"/>
<rect x="395.98" y="75.72" width="1.15" height="1.15" fill="#000" fill-opacity="0.7"/>
<rect x="401.41" y="77.36" width="1.15" height="1.15" fill="#000" fill-opacity="0.7"/>
<rect x="406.74" y="78.99" width="1.15" height="1.15" fill="#000" fill-opacity="0.7"/>
<rect x="411.97" y="80.71" width="1.15" height="1.15" fill="#000" fill-opacity="0.7"/>
<rect x="417.1" y="82.39" width="1.15" height="1.15" fill="#000" fill-opacity="0.7"/>
<rect x="422.11" y="83.31" width="1.15" height="1.15" fill="#000" fill-opacity="0.7"/>
<rect x="427.03" y="84.12" width="1.15" height="1.15" fill="#000" fill-opacity="0.7"/>
<rect x="431.84" y="83.98" width="1.15" height="1.15" fill="#000" fill-opacity="0.7"/>
<rect x="436.57" y="83.59" width="1.15" height="1.15" fill="#000" fill-opacity="0.7"/>
<rect x="441.22" y="82.8" width="1.15" height="1.15" fill="#000" fill-opacity="0.7"/>
<polyline points="351.43,105.78 359.44,104.08 367.51,101.03 375.62,98.75 383.67,97.62 391.88,98.22 400.12,99.4 408.35,100.2 418.54,100.47 426.76,99.53 434.95,97.43 441.98,94.43" fill="none" stroke="#000" stroke-width="0.45" stroke-opacity="0.55"/>
<rect x="351.21" y="105.14" width="1.15" height="1.15" fill="#000" fill-opacity="0.7"/>
<rect x="357.25" y="103.85" width="1.15" height="1.15" fill="#000" fill-opacity="0.7"/>
<rect x="363.14" y="101.9" width="1.15" height="1.15" fill="#000" fill-opacity="0.7"/>
<rect x="368.93" y="99.9" width="1.15" height="1.15" fill="#000" fill-opacity="0.7"/>
<rect x="374.65" y="98.29" width="1.15" height="1.15" fill="#000" fill-opacity="0.7"/>
<rect x="380.31" y="97.44" width="1.15" height="1.15" fill="#000" fill-opacity="0.7"/>
<rect x="385.9" y="97.25" width="1.15" height="1.15" fill="#000" fill-opacity="0.7"/>
<rect x="391.42" y="97.67" width="1.15" height="1.15" fill="#000" fill-opacity="0.7"/>
<rect x="396.85" y="98.44" width="1.15" height="1.15" fill="#000" fill-opacity="0.7"/>
<rect x="402.17" y="99.09" width="1.15" height="1.15" fill="#000" fill-opacity="0.7"/>
<rect x="407.39" y="99.59" width="1.15" height="1.15" fill="#000" fill-opacity="0.7"/>
<rect x="412.5" y="99.75" width="1.15" height="1.15" fill="#000" fill-opacity="0.7"/>
<rect x="417.52" y="99.89" width="1.15" height="1.15" fill="#000" fill-opacity="0.7"/>
<rect x="422.45" y="99.39" width="1.15" height="1.15" fill="#000" fill-opacity="0.7"/>
<rect x="427.28" y="98.68" width="1.15" height="1.15" fill="#000" fill-opacity="0.7"/>
<rect x="432.03" y="97.46" width="1.15" height="1.15" fill="#000" fill-opacity="0.7"/>
<rect x="436.71" y="95.87" width="1.15" height="1.15" fill="#000" fill-opacity="0.7"/>
<rect x="441.31" y="93.9" width="1.15" height="1.15" fill="#000" fill-opacity="0.7"/>
<polyline points="355.37,143.77 360.35,139.35 368.39,135.45 378.71,132.89 389.02,129.66 401.32,125.57 413.71,120.54 425.98,114.54 434.21,109.84 441.98,104.07" fill="none" stroke="#000" stroke-width="0.45" stroke-opacity="0.55"/>
<rect x="353.9" y="143.63" width="1.15" height="1.15" fill="#000" fill-opacity="0.7"/>
<rect x="359.56" y="138.98" width="1.15" height="1.15" fill="#000" fill-opacity="0.7"/>
<rect x="365.25" y="136.13" width="1.15" height="1.15" fill="#000" fill-opacity="0.7"/>
<rect x="370.9" y="134.12" width="1.15" height="1.15" fill="#000" fill-opacity="0.7"/>
<rect x="376.49" y="132.73" width="1.15" height="1.15" fill="#000" fill-opacity="0.7"/>
<rect x="381.98" y="131.11" width="1.15" height="1.15" fill="#000" fill-opacity="0.7"/>
<rect x="387.38" y="129.42" width="1.15" height="1.15" fill="#000" fill-opacity="0.7"/>
<rect x="392.68" y="127.68" width="1.15" height="1.15" fill="#000" fill-opacity="0.7"/>
<rect x="397.9" y="125.95" width="1.15" height="1.15" fill="#000" fill-opacity="0.7"/>
<rect x="403.04" y="124.07" width="1.15" height="1.15" fill="#000" fill-opacity="0.7"/>
<rect x="408.09" y="122.02" width="1.15" height="1.15" fill="#000" fill-opacity="0.7"/>
<rect x="413.06" y="120" width="1.15" height="1.15" fill="#000" fill-opacity="0.7"/>
<rect x="417.95" y="117.61" width="1.15" height="1.15" fill="#000" fill-opacity="0.7"/>
<rect x="422.78" y="115.26" width="1.15" height="1.15" fill="#000" fill-opacity="0.7"/>
<rect x="427.53" y="112.76" width="1.15" height="1.15" fill="#000" fill-opacity="0.7"/>
<rect x="432.21" y="110.08" width="1.15" height="1.15" fill="#000" fill-opacity="0.7"/>
<rect x="436.83" y="106.9" width="1.15" height="1.15" fill="#000" fill-opacity="0.7"/>
<rect x="441.39" y="103.51" width="1.15" height="1.15" fill="#000" fill-opacity="0.7"/>
<polyline points="356,157.08 363.11,152.17 373.23,145.65 385.74,140.29 398.26,135.73 410.79,129.31 423.27,122.86 433.71,116.32 442.4,109.55" fill="none" stroke="#000" stroke-width="0.45" stroke-opacity="0.55"/>
<rect x="354.82" y="156.82" width="1.15" height="1.15" fill="#000" fill-opacity="0.7"/>
<rect x="360.48" y="153.02" width="1.15" height="1.15" fill="#000" fill-opacity="0.7"/>
<rect x="366.06" y="149.33" width="1.15" height="1.15" fill="#000" fill-opacity="0.7"/>
<rect x="371.57" y="145.78" width="1.15" height="1.15" fill="#000" fill-opacity="0.7"/>
<rect x="377.06" y="143.19" width="1.15" height="1.15" fill="#000" fill-opacity="0.7"/>
<rect x="382.47" y="140.88" width="1.15" height="1.15" fill="#000" fill-opacity="0.7"/>
<rect x="387.81" y="138.76" width="1.15" height="1.15" fill="#000" fill-opacity="0.7"/>
<rect x="393.07" y="136.84" width="1.15" height="1.15" fill="#000" fill-opacity="0.7"/>
<rect x="398.25" y="134.88" width="1.15" height="1.15" fill="#000" fill-opacity="0.7"/>
<rect x="403.32" y="132.28" width="1.15" height="1.15" fill="#000" fill-opacity="0.7"/>
<rect x="408.33" y="129.72" width="1.15" height="1.15" fill="#000" fill-opacity="0.7"/>
<rect x="413.26" y="127.17" width="1.15" height="1.15" fill="#000" fill-opacity="0.7"/>
<rect x="418.12" y="124.66" width="1.15" height="1.15" fill="#000" fill-opacity="0.7"/>
<rect x="422.92" y="122.15" width="1.15" height="1.15" fill="#000" fill-opacity="0.7"/>
<rect x="427.64" y="119.2" width="1.15" height="1.15" fill="#000" fill-opacity="0.7"/>
<rect x="432.3" y="116.28" width="1.15" height="1.15" fill="#000" fill-opacity="0.7"/>
<rect x="436.9" y="112.83" width="1.15" height="1.15" fill="#000" fill-opacity="0.7"/>
<rect x="441.43" y="109.29" width="1.15" height="1.15" fill="#000" fill-opacity="0.7"/>
<polyline points="350.59,88.71 356.5,84.37 362.49,82.74 368.53,83.6 374.48,85.06 380.33,87.02 386.03,88.28 391.62,89.4 397.07,89.86 402.42,90.6 407.67,91.1 412.83,91.65 417.9,92.63 422.88,93.27 427.74,93.02 432.53,92.85 437.22,90.97 441.84,88.62" fill="none" stroke="#000" stroke-width="0.45" stroke-opacity="0.55"/>
<rect x="350.02" y="88.14" width="1.15" height="1.15" fill="#000" fill-opacity="0.7"/>
<rect x="355.93" y="83.8" width="1.15" height="1.15" fill="#000" fill-opacity="0.7"/>
<rect x="361.92" y="82.17" width="1.15" height="1.15" fill="#000" fill-opacity="0.7"/>
<rect x="367.96" y="83.03" width="1.15" height="1.15" fill="#000" fill-opacity="0.7"/>
<rect x="373.91" y="84.49" width="1.15" height="1.15" fill="#000" fill-opacity="0.7"/>
<rect x="379.76" y="86.45" width="1.15" height="1.15" fill="#000" fill-opacity="0.7"/>
<rect x="385.46" y="87.71" width="1.15" height="1.15" fill="#000" fill-opacity="0.7"/>
<rect x="391.05" y="88.83" width="1.15" height="1.15" fill="#000" fill-opacity="0.7"/>
<rect x="396.5" y="89.29" width="1.15" height="1.15" fill="#000" fill-opacity="0.7"/>
<rect x="401.85" y="90.03" width="1.15" height="1.15" fill="#000" fill-opacity="0.7"/>
<rect x="407.1" y="90.53" width="1.15" height="1.15" fill="#000" fill-opacity="0.7"/>
<rect x="412.26" y="91.08" width="1.15" height="1.15" fill="#000" fill-opacity="0.7"/>
<rect x="417.33" y="92.06" width="1.15" height="1.15" fill="#000" fill-opacity="0.7"/>
<rect x="422.31" y="92.7" width="1.15" height="1.15" fill="#000" fill-opacity="0.7"/>
<rect x="427.17" y="92.45" width="1.15" height="1.15" fill="#000" fill-opacity="0.7"/>
<rect x="431.96" y="92.28" width="1.15" height="1.15" fill="#000" fill-opacity="0.7"/>
<rect x="436.65" y="90.4" width="1.15" height="1.15" fill="#000" fill-opacity="0.7"/>
<rect x="441.27" y="88.05" width="1.15" height="1.15" fill="#000" fill-opacity="0.7"/>
<polyline points="352.65,118.28 358.44,113.96 364.3,112.03 370.12,111.21 375.89,111.34 381.53,111.05 387.07,110.89 392.49,110.22 397.82,109.43 403.04,108.26 408.18,107.32 413.25,106.69 418.24,106.41 423.15,106.17 427.96,105.32 432.69,104.06 437.33,101.5 441.91,98.18" fill="none" stroke="#000" stroke-width="0.45" stroke-opacity="0.55"/>
<rect x="352.08" y="117.71" width="1.15" height="1.15" fill="#000" fill-opacity="0.7"/>
<rect x="357.87" y="113.39" width="1.15" height="1.15" fill="#000" fill-opacity="0.7"/>
<rect x="363.73" y="111.46" width="1.15" height="1.15" fill="#000" fill-opacity="0.7"/>
<rect x="369.55" y="110.64" width="1.15" height="1.15" fill="#000" fill-opacity="0.7"/>
<rect x="375.32" y="110.77" width="1.15" height="1.15" fill="#000" fill-opacity="0.7"/>
<rect x="380.96" y="110.48" width="1.15" height="1.15" fill="#000" fill-opacity="0.7"/>
<rect x="386.5" y="110.32" width="1.15" height="1.15" fill="#000" fill-opacity="0.7"/>
<rect x="391.92" y="109.65" width="1.15" height="1.15" fill="#000" fill-opacity="0.7"/>
<rect x="397.25" y="108.86" width="1.15" height="1.15" fill="#000" fill-opacity="0.7"/>
<rect x="402.47" y="107.69" width="1.15" height="1.15" fill="#000" fill-opacity="0.7"/>
<rect x="407.61" y="106.75" width="1.15" height="1.15" fill="#000" fill-opacity="0.7"/>
<rect x="412.68" y="106.12" width="1.15" height="1.15" fill="#000" fill-opacity="0.7"/>
<rect x="417.67" y="105.84" width="1.15" height="1.15" fill="#000" fill-opacity="0.7"/>
<rect x="422.58" y="105.6" width="1.15" height="1.15" fill="#000" fill-opacity="0.7"/>
<rect x="427.39" y="104.75" width="1.15" height="1.15" fill="#000" fill-opacity="0.7"/>
<rect x="432.12" y="103.49" width="1.15" height="1.15" fill="#000" fill-opacity="0.7"/>
<rect x="436.76" y="100.93" width="1.15" height="1.15" fill="#000" fill-opacity="0.7"/>
<rect x="441.34" y="97.61" width="1.15" height="1.15" fill="#000" fill-opacity="0.7"/>
<polyline points="354.77,148.55 360.43,144.14 366.11,141.39 371.79,140.25 377.36,138.73 382.81,136.82 388.19,135.21 393.46,133.08 398.67,131.56 403.77,129.23 408.8,127.16 413.75,125 418.62,122.33 423.42,119.23 428.16,116.75 432.84,114.41 437.45,111.86 441.99,107.86" fill="none" stroke="#000" stroke-width="0.45" stroke-opacity="0.55"/>
<rect x="354.2" y="147.98" width="1.15" height="1.15" fill="#000" fill-opacity="0.7"/>
<rect x="359.86" y="143.57" width="1.15" height="1.15" fill="#000" fill-opacity="0.7"/>
<rect x="365.54" y="140.82" width="1.15" height="1.15" fill="#000" fill-opacity="0.7"/>
<rect x="371.22" y="139.68" width="1.15" height="1.15" fill="#000" fill-opacity="0.7"/>
<rect x="376.79" y="138.16" width="1.15" height="1.15" fill="#000" fill-opacity="0.7"/>
<rect x="382.24" y="136.25" width="1.15" height="1.15" fill="#000" fill-opacity="0.7"/>
<rect x="387.62" y="134.64" width="1.15" height="1.15" fill="#000" fill-opacity="0.7"/>
<rect x="392.89" y="132.51" width="1.15" height="1.15" fill="#000" fill-opacity="0.7"/>
<rect x="398.1" y="130.99" width="1.15" height="1.15" fill="#000" fill-opacity="0.7"/>
<rect x="403.2" y="128.66" width="1.15" height="1.15" fill="#000" fill-opacity="0.7"/>
<rect x="408.23" y="126.59" width="1.15" height="1.15" fill="#000" fill-opacity="0.7"/>
<rect x="413.18" y="124.43" width="1.15" height="1.15" fill="#000" fill-opacity="0.7"/>
<rect x="418.05" y="121.76" width="1.15" height="1.15" fill="#000" fill-opacity="0.7"/>
<rect x="422.85" y="118.66" width="1.15" height="1.15" fill="#000" fill-opacity="0.7"/>
<rect x="427.59" y="116.18" width="1.15" height="1.15" fill="#000" fill-opacity="0.7"/>
<rect x="432.27" y="113.84" width="1.15" height="1.15" fill="#000" fill-opacity="0.7"/>
<rect x="436.88" y="111.29" width="1.15" height="1.15" fill="#000" fill-opacity="0.7"/>
<rect x="441.42" y="107.29" width="1.15" height="1.15" fill="#000" fill-opacity="0.7"/>
<line x1="351.35" y1="184.08" x2="340.55" y2="38.65" stroke="#000" stroke-width="0.85"/>
<line x1="351.35" y1="184.08" x2="469.38" y2="243.04" stroke="#000" stroke-width="0.8"/>
<line x1="469.38" y1="243.04" x2="563.85" y2="174.84" stroke="#000" stroke-width="0.8"/>
<line x1="357.84" y1="187.32" x2="359.9" y2="186.21" stroke="#000" stroke-width="0.8"/>
<line x1="364.43" y1="190.61" x2="367.85" y2="188.74" stroke="#000" stroke-width="0.8"/>
<line x1="371.13" y1="193.96" x2="373.18" y2="192.81" stroke="#000" stroke-width="0.8"/>
<line x1="377.94" y1="197.36" x2="381.35" y2="195.42" stroke="#000" stroke-width="0.8"/>
<line x1="384.86" y1="200.82" x2="386.91" y2="199.63" stroke="#000" stroke-width="0.8"/>
<line x1="391.9" y1="204.33" x2="395.3" y2="202.33" stroke="#000" stroke-width="0.8"/>
<line x1="399.06" y1="207.91" x2="401.1" y2="206.68" stroke="#000" stroke-width="0.8"/>
<line x1="406.34" y1="211.55" x2="409.73" y2="209.47" stroke="#000" stroke-width="0.8"/>
<line x1="413.74" y1="215.25" x2="415.78" y2="213.98" stroke="#000" stroke-width="0.8"/>
<line x1="421.28" y1="219.01" x2="424.65" y2="216.86" stroke="#000" stroke-width="0.8"/>
<line x1="428.94" y1="222.84" x2="430.97" y2="221.52" stroke="#000" stroke-width="0.8"/>
<line x1="436.74" y1="226.73" x2="440.1" y2="224.51" stroke="#000" stroke-width="0.8"/>
<line x1="444.68" y1="230.7" x2="446.7" y2="229.34" stroke="#000" stroke-width="0.8"/>
<line x1="452.77" y1="234.74" x2="456.11" y2="232.43" stroke="#000" stroke-width="0.8"/>
<line x1="461" y1="238.85" x2="463" y2="237.44" stroke="#000" stroke-width="0.8"/>
<line x1="480.29" y1="235.16" x2="477.87" y2="233.99" stroke="#000" stroke-width="0.8"/>
<line x1="490.83" y1="227.55" x2="486.83" y2="225.67" stroke="#000" stroke-width="0.8"/>
<line x1="501.02" y1="220.2" x2="498.63" y2="219.1" stroke="#000" stroke-width="0.8"/>
<line x1="510.88" y1="213.08" x2="506.93" y2="211.32" stroke="#000" stroke-width="0.8"/>
<line x1="520.42" y1="206.2" x2="518.06" y2="205.17" stroke="#000" stroke-width="0.8"/>
<line x1="529.65" y1="199.53" x2="525.75" y2="197.87" stroke="#000" stroke-width="0.8"/>
<line x1="538.6" y1="193.07" x2="536.27" y2="192.1" stroke="#000" stroke-width="0.8"/>
<line x1="547.28" y1="186.8" x2="543.43" y2="185.25" stroke="#000" stroke-width="0.8"/>
<line x1="555.69" y1="180.73" x2="553.39" y2="179.83" stroke="#000" stroke-width="0.8"/>
<line x1="350.36" y1="170.8" x2="352.45" y2="169.74" stroke="#000" stroke-width="0.8"/>
<line x1="349.36" y1="157.27" x2="352.86" y2="155.54" stroke="#000" stroke-width="0.8"/>
<line x1="348.33" y1="143.46" x2="350.46" y2="142.45" stroke="#000" stroke-width="0.8"/>
<line x1="347.29" y1="129.38" x2="350.87" y2="127.75" stroke="#000" stroke-width="0.8"/>
<line x1="346.22" y1="115.02" x2="348.4" y2="114.07" stroke="#000" stroke-width="0.8"/>
<line x1="345.13" y1="100.36" x2="348.8" y2="98.84" stroke="#000" stroke-width="0.8"/>
<line x1="344.02" y1="85.41" x2="346.25" y2="84.53" stroke="#000" stroke-width="0.8"/>
<line x1="342.89" y1="70.14" x2="346.64" y2="68.74" stroke="#000" stroke-width="0.8"/>
<line x1="341.73" y1="54.56" x2="344.01" y2="53.75" stroke="#000" stroke-width="0.8"/>
<polyline points="362.4,61.9 367.9,62.9 374.9,63.5 381.9,66.9 389.9,70.3 399.8,75.9 409.8,80.9 419.8,83.9 431.7,87.8 441.7,89.4 449.7,88.8 455.2,87.8" fill="none" stroke="#ff0000" stroke-width="3.7" stroke-linecap="round" stroke-linejoin="round"/>
<polyline points="378.77,99.46 384.69,94.89 390.64,93.11 396.59,93.89 402.44,95.29 408.19,97.21 413.79,98.41 419.27,99.46 424.63,99.83 429.89,100.5 435.04,100.92 440.1,101.4 445.07,102.31 449.94,102.88 454.72,102.54 459.42,102.29 464.05,100.27 468.62,97.79" fill="none" stroke="#2020ff" stroke-width="0.8"/>
<circle cx="378.77" cy="99.46" r="2.2" fill="#0000ff"/>
<circle cx="384.69" cy="94.89" r="2.2" fill="#0000ff"/>
<circle cx="390.64" cy="93.11" r="2.2" fill="#0000ff"/>
<circle cx="396.59" cy="93.89" r="2.2" fill="#0000ff"/>
<circle cx="402.44" cy="95.29" r="2.2" fill="#0000ff"/>
<circle cx="408.19" cy="97.21" r="2.2" fill="#0000ff"/>
<circle cx="413.79" cy="98.41" r="2.2" fill="#0000ff"/>
<circle cx="419.27" cy="99.46" r="2.2" fill="#0000ff"/>
<circle cx="424.63" cy="99.83" r="2.2" fill="#0000ff"/>
<circle cx="429.89" cy="100.5" r="2.2" fill="#0000ff"/>
<circle cx="435.04" cy="100.92" r="2.2" fill="#0000ff"/>
<circle cx="440.1" cy="101.4" r="2.2" fill="#0000ff"/>
<circle cx="445.07" cy="102.31" r="2.2" fill="#0000ff"/>
<circle cx="449.94" cy="102.88" r="2.2" fill="#0000ff"/>
<circle cx="454.72" cy="102.54" r="2.2" fill="#0000ff"/>
<circle cx="459.42" cy="102.29" r="2.2" fill="#0000ff"/>
<circle cx="464.05" cy="100.27" r="2.2" fill="#0000ff"/>
<circle cx="468.62" cy="97.79" r="2.2" fill="#0000ff"/>
<polyline points="394,122.9 401.9,120.9 409.9,117.5 417.9,114.9 425.8,113.5 433.8,113.9 441.8,114.9 449.8,115.5 459.7,115.5 467.7,114.3 475.7,111.9 482.6,108.6" fill="none" stroke="#ff0000" stroke-width="3.7" stroke-linecap="round" stroke-linejoin="round"/>
<polyline points="409.95,142.17 415.74,137.38 421.5,135.11 427.18,134.02 432.76,133.92 438.23,133.39 443.6,133.01 448.86,132.08 454.02,131.05 459.1,129.61 464.08,128.42 468.97,127.57 473.78,127.08 478.49,126.63 483.14,125.55 487.71,124.06 492.25,121.2 496.76,117.54" fill="none" stroke="#2020ff" stroke-width="0.8"/>
<circle cx="409.95" cy="142.17" r="2.2" fill="#0000ff"/>
<circle cx="415.74" cy="137.38" r="2.2" fill="#0000ff"/>
<circle cx="421.5" cy="135.11" r="2.2" fill="#0000ff"/>
<circle cx="427.18" cy="134.02" r="2.2" fill="#0000ff"/>
<circle cx="432.76" cy="133.92" r="2.2" fill="#0000ff"/>
<circle cx="438.23" cy="133.39" r="2.2" fill="#0000ff"/>
<circle cx="443.6" cy="133.01" r="2.2" fill="#0000ff"/>
<circle cx="448.86" cy="132.08" r="2.2" fill="#0000ff"/>
<circle cx="454.02" cy="131.05" r="2.2" fill="#0000ff"/>
<circle cx="459.1" cy="129.61" r="2.2" fill="#0000ff"/>
<circle cx="464.08" cy="128.42" r="2.2" fill="#0000ff"/>
<circle cx="468.97" cy="127.57" r="2.2" fill="#0000ff"/>
<circle cx="473.78" cy="127.08" r="2.2" fill="#0000ff"/>
<circle cx="478.49" cy="126.63" r="2.2" fill="#0000ff"/>
<circle cx="483.14" cy="125.55" r="2.2" fill="#0000ff"/>
<circle cx="487.71" cy="124.06" r="2.2" fill="#0000ff"/>
<circle cx="492.25" cy="121.2" r="2.2" fill="#0000ff"/>
<circle cx="496.76" cy="117.54" r="2.2" fill="#0000ff"/>
<polyline points="427,175.8 432,170.8 439.9,166.2 449.9,162.9 459.9,158.9 471.8,153.9 483.8,147.9 495.7,140.9 503.7,135.5 511.3,129" fill="none" stroke="#ff0000" stroke-width="3.7" stroke-linecap="round" stroke-linejoin="round"/>
<polyline points="442.03,188.12 447.66,182.94 453.21,179.58 458.65,177.95 464,175.92 469.26,173.49 474.41,171.39 479.49,168.74 484.47,166.76 489.39,163.91 494.22,161.35 498.97,158.7 503.68,155.52 508.32,151.88 512.88,148.91 517.37,146.1 521.8,143.09 526.24,138.52" fill="none" stroke="#2020ff" stroke-width="0.8"/>
<circle cx="442.03" cy="188.12" r="2.2" fill="#0000ff"/>
<circle cx="447.66" cy="182.94" r="2.2" fill="#0000ff"/>
<circle cx="453.21" cy="179.58" r="2.2" fill="#0000ff"/>
<circle cx="458.65" cy="177.95" r="2.2" fill="#0000ff"/>
<circle cx="464" cy="175.92" r="2.2" fill="#0000ff"/>
<circle cx="469.26" cy="173.49" r="2.2" fill="#0000ff"/>
<circle cx="474.41" cy="171.39" r="2.2" fill="#0000ff"/>
<circle cx="479.49" cy="168.74" r="2.2" fill="#0000ff"/>
<circle cx="484.47" cy="166.76" r="2.2" fill="#0000ff"/>
<circle cx="489.39" cy="163.91" r="2.2" fill="#0000ff"/>
<circle cx="494.22" cy="161.35" r="2.2" fill="#0000ff"/>
<circle cx="498.97" cy="158.7" r="2.2" fill="#0000ff"/>
<circle cx="503.68" cy="155.52" r="2.2" fill="#0000ff"/>
<circle cx="508.32" cy="151.88" r="2.2" fill="#0000ff"/>
<circle cx="512.88" cy="148.91" r="2.2" fill="#0000ff"/>
<circle cx="517.37" cy="146.1" r="2.2" fill="#0000ff"/>
<circle cx="521.8" cy="143.09" r="2.2" fill="#0000ff"/>
<circle cx="526.24" cy="138.52" r="2.2" fill="#0000ff"/>
<polyline points="459,204.8 466,198.8 475.9,190.8 487.9,183.9 499.8,177.9 511.8,169.9 523.7,161.9 533.7,154 542.1,146" fill="none" stroke="#ff0000" stroke-width="3.7" stroke-linecap="round" stroke-linejoin="round"/>
<text transform="matrix(0.75,-0.4,0.07,1,351.35,184.08)" x="-1.6" y="3.4" text-anchor="end" font-family="Liberation Serif" font-size="9.5" fill="#1a1a1a" stroke="#1a1a1a" stroke-width="0.12" >0</text>
<text transform="matrix(0.76,-0.38,0.07,1,349.36,157.27)" x="-1.6" y="3.4" text-anchor="end" font-family="Liberation Serif" font-size="9.5" fill="#1a1a1a" stroke="#1a1a1a" stroke-width="0.12" >50</text>
<text transform="matrix(0.77,-0.35,0.07,1,347.29,129.38)" x="-1.6" y="3.4" text-anchor="end" font-family="Liberation Serif" font-size="9.5" fill="#1a1a1a" stroke="#1a1a1a" stroke-width="0.12" >100</text>
<text transform="matrix(0.78,-0.33,0.07,1,345.13,100.36)" x="-1.6" y="3.4" text-anchor="end" font-family="Liberation Serif" font-size="9.5" fill="#1a1a1a" stroke="#1a1a1a" stroke-width="0.12" >150</text>
<text transform="matrix(0.8,-0.3,0.07,1,342.89,70.14)" x="-1.6" y="3.4" text-anchor="end" font-family="Liberation Serif" font-size="9.5" fill="#1a1a1a" stroke="#1a1a1a" stroke-width="0.12" >200</text>
<text transform="matrix(0.81,-0.27,0.07,1,340.55,38.65)" x="-1.6" y="3.4" text-anchor="end" font-family="Liberation Serif" font-size="9.5" fill="#1a1a1a" stroke="#1a1a1a" stroke-width="0.12" >250</text>
<text transform="matrix(0.83,-0.46,0.65,0.62,363.05,191.37)" x="0" y="3" text-anchor="end" font-family="Liberation Serif" font-size="8" fill="#2a2a2a" stroke="#2a2a2a" stroke-width="0" >973</text>
<text transform="matrix(0.83,-0.47,0.65,0.62,376.56,198.14)" x="0" y="3" text-anchor="end" font-family="Liberation Serif" font-size="8" fill="#2a2a2a" stroke="#2a2a2a" stroke-width="0" >998</text>
<text transform="matrix(0.82,-0.48,0.66,0.61,390.53,205.14)" x="0" y="3" text-anchor="end" font-family="Liberation Serif" font-size="8" fill="#2a2a2a" stroke="#2a2a2a" stroke-width="0" >1023</text>
<text transform="matrix(0.81,-0.5,0.66,0.61,404.97,212.38)" x="0" y="3" text-anchor="end" font-family="Liberation Serif" font-size="8" fill="#2a2a2a" stroke="#2a2a2a" stroke-width="0" >1048</text>
<text transform="matrix(0.8,-0.51,0.67,0.6,419.92,219.87)" x="0" y="3" text-anchor="end" font-family="Liberation Serif" font-size="8" fill="#2a2a2a" stroke="#2a2a2a" stroke-width="0" >1073</text>
<text transform="matrix(0.79,-0.52,0.67,0.6,435.39,227.63)" x="0" y="3" text-anchor="end" font-family="Liberation Serif" font-size="8" fill="#2a2a2a" stroke="#2a2a2a" stroke-width="0" >1098</text>
<text transform="matrix(0.78,-0.54,0.68,0.59,451.42,235.67)" x="0" y="3" text-anchor="end" font-family="Liberation Serif" font-size="8" fill="#2a2a2a" stroke="#2a2a2a" stroke-width="0" >1123</text>
<text transform="matrix(0.77,-0.56,0.69,0.58,468.05,244)" x="0" y="3" text-anchor="end" font-family="Liberation Serif" font-size="8" fill="#2a2a2a" stroke="#2a2a2a" stroke-width="0" >1148</text>
<text transform="matrix(0.85,0.42,-0.58,0.75,471.14,243.92)" x="0" y="3" text-anchor="start" font-family="Liberation Serif" font-size="7.8" fill="#333" stroke="#333" stroke-width="0" >0.0</text>
<text transform="matrix(0.86,0.41,-0.57,0.76,492.57,228.37)" x="0" y="3" text-anchor="start" font-family="Liberation Serif" font-size="7.8" fill="#333" stroke="#333" stroke-width="0" >0.2</text>
<text transform="matrix(0.87,0.39,-0.56,0.77,512.6,213.85)" x="0" y="3" text-anchor="start" font-family="Liberation Serif" font-size="7.8" fill="#333" stroke="#333" stroke-width="0" >0.4</text>
<text transform="matrix(0.87,0.37,-0.55,0.77,531.35,200.25)" x="0" y="3" text-anchor="start" font-family="Liberation Serif" font-size="7.8" fill="#333" stroke="#333" stroke-width="0" >0.6</text>
<text transform="matrix(0.88,0.36,-0.54,0.78,548.95,187.48)" x="0" y="3" text-anchor="start" font-family="Liberation Serif" font-size="7.8" fill="#333" stroke="#333" stroke-width="0" >0.8</text>
<text transform="matrix(0.89,0.34,-0.53,0.79,565.51,175.48)" x="0" y="3" text-anchor="start" font-family="Liberation Serif" font-size="7.8" fill="#333" stroke="#333" stroke-width="0" >1.0</text>
<text transform="matrix(0.88,0.47,-0.85,0.52,386.42,225.74)" x="0" y="0" text-anchor="middle" font-family="Liberation Serif" font-size="9.3" fill="#1a1a1a" stroke="#1a1a1a" stroke-width="0.12" >Temperature(K)</text>
<text transform="matrix(0.77,-0.59,0.94,0.74,541.43,215.9)" x="0" y="0" text-anchor="middle" font-family="Liberation Serif" font-size="8.7" fill="#1a1a1a" stroke="#1a1a1a" stroke-width="0.12" >True Strain</text>
<text transform="matrix(0.09,1,-0.97,0.25,325.71,124.72)" x="0" y="0" text-anchor="middle" font-family="Liberation Serif" font-size="10" fill="#1a1a1a" stroke="#1a1a1a" stroke-width="0.12" >True Stress(MPa)</text>
<rect x="471.3" y="20.8" width="129.5" height="45.2" fill="#fff" stroke="#8c8c8c" stroke-width="1"/>
<line x1="472.3" y1="66.3" x2="601.3" y2="66.3" stroke="#9a9a9a" stroke-width="1.2"/>
<text x="478.7" y="35.1" font-family="Liberation Serif" font-size="10.8" fill="#111" stroke="#111" stroke-width="0.22">Strain rate(&#949;)=0.01s<tspan dx="0.3" dy="-4.2" font-size="6.5">-1</tspan></text>
<circle cx="530.15" cy="27.7" r="0.65" fill="#111"/>
<line x1="478.8" y1="45" x2="502.3" y2="45" stroke="#ff0000" stroke-width="3.4" stroke-linecap="round"/>
<text x="505.6" y="48.8" font-family="Liberation Serif" font-size="10.8" fill="#111" stroke="#111" stroke-width="0.22">Experimental values</text>
<line x1="478.1" y1="58.5" x2="503" y2="58.5" stroke="#8080ff" stroke-width="1.2"/>
<rect x="488.05" y="56" width="5" height="5" fill="#0000ff"/>
<text x="505.6" y="62.3" font-family="Liberation Serif" font-size="10.8" fill="#111" stroke="#111" stroke-width="0.22">Predicted values</text>
<text x="307" y="18.9" font-family="Liberation Sans" font-size="18">(b)</text>
<polygon points="44.13,456.06 161.47,515.57 256.52,446.43 143.77,402.85" fill="#80ffff"/>
<polygon points="44.13,456.06 143.77,402.85 143.91,274.03 33.59,311.07" fill="#00ff00"/>
<polygon points="143.77,402.85 256.52,446.43 268.53,303.53 143.91,274.03" fill="#cccccc"/>
<line x1="42.75" y1="437.09" x2="143.79" y2="385.79" stroke="#000" stroke-opacity="0.38" stroke-width="0.6"/>
<line x1="143.79" y1="385.79" x2="258.09" y2="427.7" stroke="#000" stroke-opacity="0.42" stroke-width="0.6"/>
<line x1="41.33" y1="417.58" x2="143.81" y2="368.31" stroke="#000" stroke-opacity="0.38" stroke-width="0.6"/>
<line x1="143.81" y1="368.31" x2="259.71" y2="408.45" stroke="#000" stroke-opacity="0.42" stroke-width="0.6"/>
<line x1="39.87" y1="397.51" x2="143.83" y2="350.39" stroke="#000" stroke-opacity="0.38" stroke-width="0.6"/>
<line x1="143.83" y1="350.39" x2="261.38" y2="388.66" stroke="#000" stroke-opacity="0.42" stroke-width="0.6"/>
<line x1="38.37" y1="376.85" x2="143.85" y2="332.02" stroke="#000" stroke-opacity="0.38" stroke-width="0.6"/>
<line x1="143.85" y1="332.02" x2="263.09" y2="368.29" stroke="#000" stroke-opacity="0.42" stroke-width="0.6"/>
<line x1="36.83" y1="355.58" x2="143.87" y2="313.19" stroke="#000" stroke-opacity="0.38" stroke-width="0.6"/>
<line x1="143.87" y1="313.19" x2="264.85" y2="347.34" stroke="#000" stroke-opacity="0.42" stroke-width="0.6"/>
<line x1="35.23" y1="333.66" x2="143.89" y2="293.86" stroke="#000" stroke-opacity="0.38" stroke-width="0.6"/>
<line x1="143.89" y1="293.86" x2="266.66" y2="325.76" stroke="#000" stroke-opacity="0.42" stroke-width="0.6"/>
<line x1="66.43" y1="444.15" x2="58.55" y2="302.69" stroke="#000" stroke-opacity="0.38" stroke-width="0.6"/>
<line x1="66.43" y1="444.15" x2="183.08" y2="499.85" stroke="#000" stroke-opacity="0.55" stroke-width="0.6"/>
<line x1="87.44" y1="432.93" x2="81.93" y2="294.84" stroke="#000" stroke-opacity="0.38" stroke-width="0.6"/>
<line x1="87.44" y1="432.93" x2="203.27" y2="485.17" stroke="#000" stroke-opacity="0.55" stroke-width="0.6"/>
<line x1="107.28" y1="422.34" x2="103.86" y2="287.47" stroke="#000" stroke-opacity="0.38" stroke-width="0.6"/>
<line x1="107.28" y1="422.34" x2="222.15" y2="471.43" stroke="#000" stroke-opacity="0.55" stroke-width="0.6"/>
<line x1="126.02" y1="412.33" x2="124.49" y2="280.55" stroke="#000" stroke-opacity="0.38" stroke-width="0.6"/>
<line x1="126.02" y1="412.33" x2="239.87" y2="458.54" stroke="#000" stroke-opacity="0.55" stroke-width="0.6"/>
<line x1="156.42" y1="407.74" x2="157.73" y2="277.3" stroke="#000" stroke-opacity="0.42" stroke-width="0.6"/>
<line x1="57.06" y1="462.61" x2="156.42" y2="407.74" stroke="#000" stroke-opacity="0.55" stroke-width="0.6"/>
<line x1="169.44" y1="412.77" x2="172.01" y2="280.68" stroke="#000" stroke-opacity="0.42" stroke-width="0.6"/>
<line x1="70.43" y1="469.39" x2="169.44" y2="412.77" stroke="#000" stroke-opacity="0.55" stroke-width="0.6"/>
<line x1="182.85" y1="417.95" x2="186.76" y2="284.17" stroke="#000" stroke-opacity="0.42" stroke-width="0.6"/>
<line x1="84.27" y1="476.41" x2="182.85" y2="417.95" stroke="#000" stroke-opacity="0.55" stroke-width="0.6"/>
<line x1="196.68" y1="423.3" x2="202.01" y2="287.78" stroke="#000" stroke-opacity="0.42" stroke-width="0.6"/>
<line x1="98.6" y1="483.68" x2="196.68" y2="423.3" stroke="#000" stroke-opacity="0.55" stroke-width="0.6"/>
<line x1="210.94" y1="428.81" x2="217.78" y2="291.52" stroke="#000" stroke-opacity="0.42" stroke-width="0.6"/>
<line x1="113.46" y1="491.22" x2="210.94" y2="428.81" stroke="#000" stroke-opacity="0.55" stroke-width="0.6"/>
<line x1="225.65" y1="434.5" x2="234.11" y2="295.38" stroke="#000" stroke-opacity="0.42" stroke-width="0.6"/>
<line x1="128.87" y1="499.03" x2="225.65" y2="434.5" stroke="#000" stroke-opacity="0.55" stroke-width="0.6"/>
<line x1="240.84" y1="440.37" x2="251.01" y2="299.38" stroke="#000" stroke-opacity="0.42" stroke-width="0.6"/>
<line x1="144.86" y1="507.14" x2="240.84" y2="440.37" stroke="#000" stroke-opacity="0.55" stroke-width="0.6"/>
<polyline points="43.09,347.26 45.01,337.03 46.93,326.81 52.96,327.25 62.03,330.86 74.03,335.28 86.13,339.32 96.22,342.75 108.24,346.39 114.31,349.4 120.39,352.91 126.45,353.35 134.42,353.41" fill="none" stroke="#000" stroke-width="0.45" stroke-opacity="0.55"/>
<rect x="42.05" y="346.87" width="1.15" height="1.15" fill="#000" fill-opacity="0.7"/>
<rect x="46.99" y="326.28" width="1.15" height="1.15" fill="#000" fill-opacity="0.7"/>
<rect x="53.27" y="327.02" width="1.15" height="1.15" fill="#000" fill-opacity="0.7"/>
<rect x="59.51" y="329.51" width="1.15" height="1.15" fill="#000" fill-opacity="0.7"/>
<rect x="65.61" y="331.82" width="1.15" height="1.15" fill="#000" fill-opacity="0.7"/>
<rect x="71.57" y="334.02" width="1.15" height="1.15" fill="#000" fill-opacity="0.7"/>
<rect x="77.4" y="336.03" width="1.15" height="1.15" fill="#000" fill-opacity="0.7"/>
<rect x="83.1" y="337.93" width="1.15" height="1.15" fill="#000" fill-opacity="0.7"/>
<rect x="88.69" y="339.81" width="1.15" height="1.15" fill="#000" fill-opacity="0.7"/>
<rect x="94.16" y="341.67" width="1.15" height="1.15" fill="#000" fill-opacity="0.7"/>
<rect x="99.51" y="343.35" width="1.15" height="1.15" fill="#000" fill-opacity="0.7"/>
<rect x="104.76" y="344.94" width="1.15" height="1.15" fill="#000" fill-opacity="0.7"/>
<rect x="109.91" y="346.94" width="1.15" height="1.15" fill="#000" fill-opacity="0.7"/>
<rect x="114.98" y="349.54" width="1.15" height="1.15" fill="#000" fill-opacity="0.7"/>
<rect x="119.94" y="352.34" width="1.15" height="1.15" fill="#000" fill-opacity="0.7"/>
<rect x="124.76" y="352.7" width="1.15" height="1.15" fill="#000" fill-opacity="0.7"/>
<rect x="129.51" y="352.81" width="1.15" height="1.15" fill="#000" fill-opacity="0.7"/>
<rect x="134.17" y="352.7" width="1.15" height="1.15" fill="#000" fill-opacity="0.7"/>
<polyline points="45.59,383.63 53.97,381.37 64.09,379.35 74.26,378.29 84.4,379.14 94.64,379.23 104.92,379.89 113.03,379.92 121.25,379.38 127.39,378.2 135.16,375.9" fill="none" stroke="#000" stroke-width="0.45" stroke-opacity="0.55"/>
<rect x="44.54" y="383.27" width="1.15" height="1.15" fill="#000" fill-opacity="0.7"/>
<rect x="50.53" y="381.57" width="1.15" height="1.15" fill="#000" fill-opacity="0.7"/>
<rect x="56.45" y="380.19" width="1.15" height="1.15" fill="#000" fill-opacity="0.7"/>
<rect x="62.27" y="379.03" width="1.15" height="1.15" fill="#000" fill-opacity="0.7"/>
<rect x="68.01" y="378.31" width="1.15" height="1.15" fill="#000" fill-opacity="0.7"/>
<rect x="73.65" y="377.72" width="1.15" height="1.15" fill="#000" fill-opacity="0.7"/>
<rect x="79.24" y="378.18" width="1.15" height="1.15" fill="#000" fill-opacity="0.7"/>
<rect x="84.73" y="378.58" width="1.15" height="1.15" fill="#000" fill-opacity="0.7"/>
<rect x="90.09" y="378.62" width="1.15" height="1.15" fill="#000" fill-opacity="0.7"/>
<rect x="95.36" y="378.74" width="1.15" height="1.15" fill="#000" fill-opacity="0.7"/>
<rect x="100.55" y="379.08" width="1.15" height="1.15" fill="#000" fill-opacity="0.7"/>
<rect x="105.63" y="379.33" width="1.15" height="1.15" fill="#000" fill-opacity="0.7"/>
<rect x="110.62" y="379.35" width="1.15" height="1.15" fill="#000" fill-opacity="0.7"/>
<rect x="115.52" y="379.15" width="1.15" height="1.15" fill="#000" fill-opacity="0.7"/>
<rect x="120.33" y="378.83" width="1.15" height="1.15" fill="#000" fill-opacity="0.7"/>
<rect x="125.06" y="377.96" width="1.15" height="1.15" fill="#000" fill-opacity="0.7"/>
<rect x="129.71" y="376.77" width="1.15" height="1.15" fill="#000" fill-opacity="0.7"/>
<rect x="134.28" y="375.42" width="1.15" height="1.15" fill="#000" fill-opacity="0.7"/>
<polyline points="48.62,409.19 56.68,404.57 64.74,401.72 75.04,399.44 85.4,397.72 95.69,396.17 106.11,394.44 116.51,391.76 126.83,388.88 135.12,385.52" fill="none" stroke="#000" stroke-width="0.45" stroke-opacity="0.55"/>
<rect x="52.12" y="406.29" width="1.15" height="1.15" fill="#000" fill-opacity="0.7"/>
<rect x="57.83" y="403.39" width="1.15" height="1.15" fill="#000" fill-opacity="0.7"/>
<rect x="63.51" y="401.38" width="1.15" height="1.15" fill="#000" fill-opacity="0.7"/>
<rect x="69.13" y="400.05" width="1.15" height="1.15" fill="#000" fill-opacity="0.7"/>
<rect x="74.66" y="398.84" width="1.15" height="1.15" fill="#000" fill-opacity="0.7"/>
<rect x="80.11" y="397.93" width="1.15" height="1.15" fill="#000" fill-opacity="0.7"/>
<rect x="85.46" y="397.05" width="1.15" height="1.15" fill="#000" fill-opacity="0.7"/>
<rect x="90.73" y="396.26" width="1.15" height="1.15" fill="#000" fill-opacity="0.7"/>
<rect x="95.91" y="395.47" width="1.15" height="1.15" fill="#000" fill-opacity="0.7"/>
<rect x="100.99" y="394.63" width="1.15" height="1.15" fill="#000" fill-opacity="0.7"/>
<rect x="106" y="393.76" width="1.15" height="1.15" fill="#000" fill-opacity="0.7"/>
<rect x="110.91" y="392.49" width="1.15" height="1.15" fill="#000" fill-opacity="0.7"/>
<rect x="115.74" y="391.25" width="1.15" height="1.15" fill="#000" fill-opacity="0.7"/>
<rect x="120.5" y="389.92" width="1.15" height="1.15" fill="#000" fill-opacity="0.7"/>
<rect x="125.18" y="388.61" width="1.15" height="1.15" fill="#000" fill-opacity="0.7"/>
<rect x="129.79" y="386.88" width="1.15" height="1.15" fill="#000" fill-opacity="0.7"/>
<rect x="134.33" y="385.04" width="1.15" height="1.15" fill="#000" fill-opacity="0.7"/>
<polyline points="49.07,426.67 55.41,422.1 63.64,418.2 74.09,415.01 84.51,412.17 95.08,409.42 105.69,406.56 116.16,402.76 126.74,398.4 134.78,394.75" fill="none" stroke="#000" stroke-width="0.45" stroke-opacity="0.55"/>
<rect x="47.5" y="426.6" width="1.15" height="1.15" fill="#000" fill-opacity="0.7"/>
<rect x="53.17" y="422.73" width="1.15" height="1.15" fill="#000" fill-opacity="0.7"/>
<rect x="58.81" y="419.65" width="1.15" height="1.15" fill="#000" fill-opacity="0.7"/>
<rect x="64.39" y="417.23" width="1.15" height="1.15" fill="#000" fill-opacity="0.7"/>
<rect x="69.93" y="415.54" width="1.15" height="1.15" fill="#000" fill-opacity="0.7"/>
<rect x="75.38" y="413.94" width="1.15" height="1.15" fill="#000" fill-opacity="0.7"/>
<rect x="80.75" y="412.47" width="1.15" height="1.15" fill="#000" fill-opacity="0.7"/>
<rect x="86.02" y="411.06" width="1.15" height="1.15" fill="#000" fill-opacity="0.7"/>
<rect x="91.22" y="409.71" width="1.15" height="1.15" fill="#000" fill-opacity="0.7"/>
<rect x="96.33" y="408.36" width="1.15" height="1.15" fill="#000" fill-opacity="0.7"/>
<rect x="101.35" y="407.01" width="1.15" height="1.15" fill="#000" fill-opacity="0.7"/>
<rect x="106.3" y="405.57" width="1.15" height="1.15" fill="#000" fill-opacity="0.7"/>
<rect x="111.15" y="403.8" width="1.15" height="1.15" fill="#000" fill-opacity="0.7"/>
<rect x="115.94" y="402.05" width="1.15" height="1.15" fill="#000" fill-opacity="0.7"/>
<rect x="120.65" y="400.1" width="1.15" height="1.15" fill="#000" fill-opacity="0.7"/>
<rect x="125.29" y="398.19" width="1.15" height="1.15" fill="#000" fill-opacity="0.7"/>
<rect x="129.87" y="396.15" width="1.15" height="1.15" fill="#000" fill-opacity="0.7"/>
<rect x="134.38" y="394.09" width="1.15" height="1.15" fill="#000" fill-opacity="0.7"/>
<polyline points="43.58,361.52 49.49,356.99 55.47,354.97 61.45,354.67 67.4,356 73.23,357.4 78.95,358.93 84.53,359.96 89.99,360.69 95.35,361.25 100.61,362.04 105.77,362.77 110.84,363.99 115.82,364.92 120.7,365.69 125.48,365.92 130.18,365.95 134.8,365.37" fill="none" stroke="#000" stroke-width="0.45" stroke-opacity="0.55"/>
<rect x="43.01" y="360.95" width="1.15" height="1.15" fill="#000" fill-opacity="0.7"/>
<rect x="48.92" y="356.42" width="1.15" height="1.15" fill="#000" fill-opacity="0.7"/>
<rect x="54.9" y="354.4" width="1.15" height="1.15" fill="#000" fill-opacity="0.7"/>
<rect x="60.88" y="354.1" width="1.15" height="1.15" fill="#000" fill-opacity="0.7"/>
<rect x="66.83" y="355.43" width="1.15" height="1.15" fill="#000" fill-opacity="0.7"/>
<rect x="72.66" y="356.83" width="1.15" height="1.15" fill="#000" fill-opacity="0.7"/>
<rect x="78.38" y="358.36" width="1.15" height="1.15" fill="#000" fill-opacity="0.7"/>
<rect x="83.96" y="359.39" width="1.15" height="1.15" fill="#000" fill-opacity="0.7"/>
<rect x="89.42" y="360.12" width="1.15" height="1.15" fill="#000" fill-opacity="0.7"/>
<rect x="94.78" y="360.68" width="1.15" height="1.15" fill="#000" fill-opacity="0.7"/>
<rect x="100.04" y="361.47" width="1.15" height="1.15" fill="#000" fill-opacity="0.7"/>
<rect x="105.2" y="362.2" width="1.15" height="1.15" fill="#000" fill-opacity="0.7"/>
<rect x="110.27" y="363.42" width="1.15" height="1.15" fill="#000" fill-opacity="0.7"/>
<rect x="115.25" y="364.35" width="1.15" height="1.15" fill="#000" fill-opacity="0.7"/>
<rect x="120.13" y="365.12" width="1.15" height="1.15" fill="#000" fill-opacity="0.7"/>
<rect x="124.91" y="365.35" width="1.15" height="1.15" fill="#000" fill-opacity="0.7"/>
<rect x="129.61" y="365.38" width="1.15" height="1.15" fill="#000" fill-opacity="0.7"/>
<rect x="134.23" y="364.8" width="1.15" height="1.15" fill="#000" fill-opacity="0.7"/>
<polyline points="46.02,397.13 51.79,392.92 57.62,390.82 63.41,389.87 69.14,389.77 74.78,389.87 80.3,389.92 85.7,389.24 91.01,388.8 96.22,388.21 101.35,387.81 106.4,387.69 111.36,387.81 116.24,387.76 121.03,387.84 125.74,387.69 130.36,387.21 134.91,386.05" fill="none" stroke="#000" stroke-width="0.45" stroke-opacity="0.55"/>
<rect x="45.45" y="396.56" width="1.15" height="1.15" fill="#000" fill-opacity="0.7"/>
<rect x="51.22" y="392.35" width="1.15" height="1.15" fill="#000" fill-opacity="0.7"/>
<rect x="57.05" y="390.25" width="1.15" height="1.15" fill="#000" fill-opacity="0.7"/>
<rect x="62.84" y="389.3" width="1.15" height="1.15" fill="#000" fill-opacity="0.7"/>
<rect x="68.57" y="389.2" width="1.15" height="1.15" fill="#000" fill-opacity="0.7"/>
<rect x="74.21" y="389.3" width="1.15" height="1.15" fill="#000" fill-opacity="0.7"/>
<rect x="79.73" y="389.35" width="1.15" height="1.15" fill="#000" fill-opacity="0.7"/>
<rect x="85.13" y="388.67" width="1.15" height="1.15" fill="#000" fill-opacity="0.7"/>
<rect x="90.44" y="388.23" width="1.15" height="1.15" fill="#000" fill-opacity="0.7"/>
<rect x="95.65" y="387.64" width="1.15" height="1.15" fill="#000" fill-opacity="0.7"/>
<rect x="100.78" y="387.24" width="1.15" height="1.15" fill="#000" fill-opacity="0.7"/>
<rect x="105.83" y="387.12" width="1.15" height="1.15" fill="#000" fill-opacity="0.7"/>
<rect x="110.79" y="387.24" width="1.15" height="1.15" fill="#000" fill-opacity="0.7"/>
<rect x="115.67" y="387.19" width="1.15" height="1.15" fill="#000" fill-opacity="0.7"/>
<rect x="120.46" y="387.27" width="1.15" height="1.15" fill="#000" fill-opacity="0.7"/>
<rect x="125.17" y="387.12" width="1.15" height="1.15" fill="#000" fill-opacity="0.7"/>
<rect x="129.79" y="386.64" width="1.15" height="1.15" fill="#000" fill-opacity="0.7"/>
<rect x="134.34" y="385.48" width="1.15" height="1.15" fill="#000" fill-opacity="0.7"/>
<polyline points="47.42,417.7 53.13,413.8 58.84,411.3 64.53,409.96 70.12,408.75 75.63,407.69 81.04,406.82 86.34,405.25 91.55,403.85 96.68,402.25 101.72,400.7 106.7,399.66 111.61,398.96 116.42,397.87 121.17,397.31 125.83,396.1 130.43,395.51 134.95,394.06" fill="none" stroke="#000" stroke-width="0.45" stroke-opacity="0.55"/>
<rect x="46.85" y="417.13" width="1.15" height="1.15" fill="#000" fill-opacity="0.7"/>
<rect x="52.56" y="413.23" width="1.15" height="1.15" fill="#000" fill-opacity="0.7"/>
<rect x="58.27" y="410.73" width="1.15" height="1.15" fill="#000" fill-opacity="0.7"/>
<rect x="63.96" y="409.39" width="1.15" height="1.15" fill="#000" fill-opacity="0.7"/>
<rect x="69.55" y="408.18" width="1.15" height="1.15" fill="#000" fill-opacity="0.7"/>
<rect x="75.06" y="407.12" width="1.15" height="1.15" fill="#000" fill-opacity="0.7"/>
<rect x="80.47" y="406.25" width="1.15" height="1.15" fill="#000" fill-opacity="0.7"/>
<rect x="85.77" y="404.68" width="1.15" height="1.15" fill="#000" fill-opacity="0.7"/>
<rect x="90.98" y="403.28" width="1.15" height="1.15" fill="#000" fill-opacity="0.7"/>
<rect x="96.11" y="401.68" width="1.15" height="1.15" fill="#000" fill-opacity="0.7"/>
<rect x="101.15" y="400.13" width="1.15" height="1.15" fill="#000" fill-opacity="0.7"/>
<rect x="106.13" y="399.09" width="1.15" height="1.15" fill="#000" fill-opacity="0.7"/>
<rect x="111.04" y="398.39" width="1.15" height="1.15" fill="#000" fill-opacity="0.7"/>
<rect x="115.85" y="397.3" width="1.15" height="1.15" fill="#000" fill-opacity="0.7"/>
<rect x="120.6" y="396.74" width="1.15" height="1.15" fill="#000" fill-opacity="0.7"/>
<rect x="125.26" y="395.53" width="1.15" height="1.15" fill="#000" fill-opacity="0.7"/>
<rect x="129.86" y="394.94" width="1.15" height="1.15" fill="#000" fill-opacity="0.7"/>
<rect x="134.38" y="393.49" width="1.15" height="1.15" fill="#000" fill-opacity="0.7"/>
<line x1="44.13" y1="456.06" x2="33.59" y2="311.07" stroke="#000" stroke-width="0.85"/>
<line x1="44.13" y1="456.06" x2="161.47" y2="515.57" stroke="#000" stroke-width="0.8"/>
<line x1="161.47" y1="515.57" x2="256.52" y2="446.43" stroke="#000" stroke-width="0.8"/>
<line x1="50.54" y1="459.31" x2="52.6" y2="458.19" stroke="#000" stroke-width="0.8"/>
<line x1="57.06" y1="462.61" x2="60.48" y2="460.72" stroke="#000" stroke-width="0.8"/>
<line x1="63.68" y1="465.97" x2="65.74" y2="464.82" stroke="#000" stroke-width="0.8"/>
<line x1="70.43" y1="469.39" x2="73.85" y2="467.43" stroke="#000" stroke-width="0.8"/>
<line x1="77.29" y1="472.87" x2="79.34" y2="471.67" stroke="#000" stroke-width="0.8"/>
<line x1="84.27" y1="476.41" x2="87.68" y2="474.38" stroke="#000" stroke-width="0.8"/>
<line x1="91.37" y1="480.01" x2="93.42" y2="478.77" stroke="#000" stroke-width="0.8"/>
<line x1="98.6" y1="483.68" x2="102.01" y2="481.58" stroke="#000" stroke-width="0.8"/>
<line x1="105.96" y1="487.42" x2="108.01" y2="486.13" stroke="#000" stroke-width="0.8"/>
<line x1="113.46" y1="491.22" x2="116.86" y2="489.04" stroke="#000" stroke-width="0.8"/>
<line x1="121.09" y1="495.09" x2="123.13" y2="493.76" stroke="#000" stroke-width="0.8"/>
<line x1="128.87" y1="499.03" x2="132.25" y2="496.78" stroke="#000" stroke-width="0.8"/>
<line x1="136.79" y1="503.05" x2="138.82" y2="501.67" stroke="#000" stroke-width="0.8"/>
<line x1="144.86" y1="507.14" x2="148.23" y2="504.8" stroke="#000" stroke-width="0.8"/>
<line x1="153.09" y1="511.31" x2="155.11" y2="509.88" stroke="#000" stroke-width="0.8"/>
<line x1="172.47" y1="507.57" x2="170.05" y2="506.38" stroke="#000" stroke-width="0.8"/>
<line x1="183.08" y1="499.85" x2="179.08" y2="497.94" stroke="#000" stroke-width="0.8"/>
<line x1="193.34" y1="492.38" x2="190.95" y2="491.27" stroke="#000" stroke-width="0.8"/>
<line x1="203.27" y1="485.17" x2="199.31" y2="483.38" stroke="#000" stroke-width="0.8"/>
<line x1="212.86" y1="478.19" x2="210.5" y2="477.15" stroke="#000" stroke-width="0.8"/>
<line x1="222.15" y1="471.43" x2="218.24" y2="469.76" stroke="#000" stroke-width="0.8"/>
<line x1="231.15" y1="464.88" x2="228.82" y2="463.91" stroke="#000" stroke-width="0.8"/>
<line x1="239.87" y1="458.54" x2="236.01" y2="456.97" stroke="#000" stroke-width="0.8"/>
<line x1="248.32" y1="452.39" x2="246.02" y2="451.48" stroke="#000" stroke-width="0.8"/>
<line x1="43.45" y1="446.64" x2="45.53" y2="445.56" stroke="#000" stroke-width="0.8"/>
<line x1="42.75" y1="437.09" x2="46.24" y2="435.32" stroke="#000" stroke-width="0.8"/>
<line x1="42.05" y1="427.41" x2="44.16" y2="426.36" stroke="#000" stroke-width="0.8"/>
<line x1="41.33" y1="417.58" x2="44.88" y2="415.88" stroke="#000" stroke-width="0.8"/>
<line x1="40.61" y1="407.62" x2="42.76" y2="406.62" stroke="#000" stroke-width="0.8"/>
<line x1="39.87" y1="397.51" x2="43.48" y2="395.88" stroke="#000" stroke-width="0.8"/>
<line x1="39.13" y1="387.26" x2="41.31" y2="386.3" stroke="#000" stroke-width="0.8"/>
<line x1="38.37" y1="376.85" x2="42.03" y2="375.3" stroke="#000" stroke-width="0.8"/>
<line x1="37.6" y1="366.29" x2="39.82" y2="365.38" stroke="#000" stroke-width="0.8"/>
<line x1="36.83" y1="355.58" x2="40.55" y2="354.1" stroke="#000" stroke-width="0.8"/>
<line x1="36.03" y1="344.7" x2="38.29" y2="343.84" stroke="#000" stroke-width="0.8"/>
<line x1="35.23" y1="333.66" x2="39.02" y2="332.27" stroke="#000" stroke-width="0.8"/>
<line x1="34.42" y1="322.45" x2="36.71" y2="321.64" stroke="#000" stroke-width="0.8"/>
<polyline points="56.9,352.3 58.9,341.9 60.9,331.5 66.9,331.9 75.9,335.5 87.8,339.9 99.8,343.9 109.8,347.3 121.7,350.9 127.7,353.9 133.7,357.4 139.7,357.8 147.6,357.8" fill="none" stroke="#ff0000" stroke-width="3.7" stroke-linecap="round" stroke-linejoin="round"/>
<polyline points="71.48,372.21 77.41,367.44 83.37,365.26 89.29,364.85 95.15,366.11 100.89,367.45 106.51,368.93 112,369.89 117.37,370.55 122.64,371.03 127.81,371.75 132.88,372.41 137.85,373.58 142.72,374.44 147.5,375.15 152.2,375.3 156.81,375.25 161.35,374.58" fill="none" stroke="#2020ff" stroke-width="0.8"/>
<circle cx="71.48" cy="372.21" r="2.2" fill="#0000ff"/>
<circle cx="77.41" cy="367.44" r="2.2" fill="#0000ff"/>
<circle cx="83.37" cy="365.26" r="2.2" fill="#0000ff"/>
<circle cx="89.29" cy="364.85" r="2.2" fill="#0000ff"/>
<circle cx="95.15" cy="366.11" r="2.2" fill="#0000ff"/>
<circle cx="100.89" cy="367.45" r="2.2" fill="#0000ff"/>
<circle cx="106.51" cy="368.93" r="2.2" fill="#0000ff"/>
<circle cx="112" cy="369.89" r="2.2" fill="#0000ff"/>
<circle cx="117.37" cy="370.55" r="2.2" fill="#0000ff"/>
<circle cx="122.64" cy="371.03" r="2.2" fill="#0000ff"/>
<circle cx="127.81" cy="371.75" r="2.2" fill="#0000ff"/>
<circle cx="132.88" cy="372.41" r="2.2" fill="#0000ff"/>
<circle cx="137.85" cy="373.58" r="2.2" fill="#0000ff"/>
<circle cx="142.72" cy="374.44" r="2.2" fill="#0000ff"/>
<circle cx="147.5" cy="375.15" r="2.2" fill="#0000ff"/>
<circle cx="152.2" cy="375.3" r="2.2" fill="#0000ff"/>
<circle cx="156.81" cy="375.25" r="2.2" fill="#0000ff"/>
<circle cx="161.35" cy="374.58" r="2.2" fill="#0000ff"/>
<polyline points="87.6,400.9 95.9,398.3 105.9,395.9 115.9,394.5 125.8,395.1 135.8,394.9 145.8,395.3 153.7,395.1 161.7,394.3 167.7,392.9 175.3,390.3" fill="none" stroke="#ff0000" stroke-width="3.7" stroke-linecap="round" stroke-linejoin="round"/>
<polyline points="102.58,421.37 108.37,416.68 114.12,414.21 119.79,412.97 125.37,412.63 130.83,412.51 136.19,412.33 141.44,411.4 146.59,410.72 151.64,409.89 156.6,409.25 161.47,408.93 166.24,408.86 170.93,408.61 175.52,408.5 180.04,408.15 184.49,407.46 188.89,406.07" fill="none" stroke="#2020ff" stroke-width="0.8"/>
<circle cx="102.58" cy="421.37" r="2.2" fill="#0000ff"/>
<circle cx="108.37" cy="416.68" r="2.2" fill="#0000ff"/>
<circle cx="114.12" cy="414.21" r="2.2" fill="#0000ff"/>
<circle cx="119.79" cy="412.97" r="2.2" fill="#0000ff"/>
<circle cx="125.37" cy="412.63" r="2.2" fill="#0000ff"/>
<circle cx="130.83" cy="412.51" r="2.2" fill="#0000ff"/>
<circle cx="136.19" cy="412.33" r="2.2" fill="#0000ff"/>
<circle cx="141.44" cy="411.4" r="2.2" fill="#0000ff"/>
<circle cx="146.59" cy="410.72" r="2.2" fill="#0000ff"/>
<circle cx="151.64" cy="409.89" r="2.2" fill="#0000ff"/>
<circle cx="156.6" cy="409.25" r="2.2" fill="#0000ff"/>
<circle cx="161.47" cy="408.93" r="2.2" fill="#0000ff"/>
<circle cx="166.24" cy="408.86" r="2.2" fill="#0000ff"/>
<circle cx="170.93" cy="408.61" r="2.2" fill="#0000ff"/>
<circle cx="175.52" cy="408.5" r="2.2" fill="#0000ff"/>
<circle cx="180.04" cy="408.15" r="2.2" fill="#0000ff"/>
<circle cx="184.49" cy="407.46" r="2.2" fill="#0000ff"/>
<circle cx="188.89" cy="406.07" r="2.2" fill="#0000ff"/>
<polyline points="120,440.8 128,435.4 135.9,431.9 145.9,428.9 155.9,426.5 165.8,424.3 175.8,421.9 185.8,418.5 195.7,414.9 203.7,410.9" fill="none" stroke="#ff0000" stroke-width="3.7" stroke-linecap="round" stroke-linejoin="round"/>
<polyline points="134.26,457.19 139.94,452.54 145.53,449.42 151.02,447.57 156.4,445.86 161.67,444.34 166.85,443.02 171.94,440.96 176.93,439.09 181.85,437.02 186.68,435 191.4,433.55 196.03,432.47 200.6,430.97 205.05,430.06 209.47,428.45 213.77,427.51 218.05,425.66" fill="none" stroke="#2020ff" stroke-width="0.8"/>
<circle cx="134.26" cy="457.19" r="2.2" fill="#0000ff"/>
<circle cx="139.94" cy="452.54" r="2.2" fill="#0000ff"/>
<circle cx="145.53" cy="449.42" r="2.2" fill="#0000ff"/>
<circle cx="151.02" cy="447.57" r="2.2" fill="#0000ff"/>
<circle cx="156.4" cy="445.86" r="2.2" fill="#0000ff"/>
<circle cx="161.67" cy="444.34" r="2.2" fill="#0000ff"/>
<circle cx="166.85" cy="443.02" r="2.2" fill="#0000ff"/>
<circle cx="171.94" cy="440.96" r="2.2" fill="#0000ff"/>
<circle cx="176.93" cy="439.09" r="2.2" fill="#0000ff"/>
<circle cx="181.85" cy="437.02" r="2.2" fill="#0000ff"/>
<circle cx="186.68" cy="435" r="2.2" fill="#0000ff"/>
<circle cx="191.4" cy="433.55" r="2.2" fill="#0000ff"/>
<circle cx="196.03" cy="432.47" r="2.2" fill="#0000ff"/>
<circle cx="200.6" cy="430.97" r="2.2" fill="#0000ff"/>
<circle cx="205.05" cy="430.06" r="2.2" fill="#0000ff"/>
<circle cx="209.47" cy="428.45" r="2.2" fill="#0000ff"/>
<circle cx="213.77" cy="427.51" r="2.2" fill="#0000ff"/>
<circle cx="218.05" cy="425.66" r="2.2" fill="#0000ff"/>
<polyline points="151.6,474.4 157.9,468.8 165.9,463.8 175.9,459.4 185.8,455.4 195.8,451.5 205.8,447.5 215.7,442.5 225.7,436.9 233.3,432.3" fill="none" stroke="#ff0000" stroke-width="3.7" stroke-linecap="round" stroke-linejoin="round"/>
<text transform="matrix(0.75,-0.4,0.07,1,44.13,456.06)" x="-1.6" y="3.4" text-anchor="end" font-family="Liberation Serif" font-size="9.5" fill="#1a1a1a" stroke="#1a1a1a" stroke-width="0.12" >50</text>
<text transform="matrix(0.76,-0.38,0.07,1,42.75,437.09)" x="-1.6" y="3.4" text-anchor="end" font-family="Liberation Serif" font-size="9.5" fill="#1a1a1a" stroke="#1a1a1a" stroke-width="0.12" >100</text>
<text transform="matrix(0.77,-0.37,0.07,1,41.33,417.58)" x="-1.6" y="3.4" text-anchor="end" font-family="Liberation Serif" font-size="9.5" fill="#1a1a1a" stroke="#1a1a1a" stroke-width="0.12" >150</text>
<text transform="matrix(0.77,-0.35,0.07,1,39.87,397.51)" x="-1.6" y="3.4" text-anchor="end" font-family="Liberation Serif" font-size="9.5" fill="#1a1a1a" stroke="#1a1a1a" stroke-width="0.12" >200</text>
<text transform="matrix(0.78,-0.33,0.07,1,38.37,376.85)" x="-1.6" y="3.4" text-anchor="end" font-family="Liberation Serif" font-size="9.5" fill="#1a1a1a" stroke="#1a1a1a" stroke-width="0.12" >250</text>
<text transform="matrix(0.79,-0.31,0.07,1,36.83,355.58)" x="-1.6" y="3.4" text-anchor="end" font-family="Liberation Serif" font-size="9.5" fill="#1a1a1a" stroke="#1a1a1a" stroke-width="0.12" >300</text>
<text transform="matrix(0.8,-0.29,0.07,1,35.23,333.66)" x="-1.6" y="3.4" text-anchor="end" font-family="Liberation Serif" font-size="9.5" fill="#1a1a1a" stroke="#1a1a1a" stroke-width="0.12" >350</text>
<text transform="matrix(0.81,-0.27,0.07,1,33.59,311.07)" x="-1.6" y="3.4" text-anchor="end" font-family="Liberation Serif" font-size="9.5" fill="#1a1a1a" stroke="#1a1a1a" stroke-width="0.12" >400</text>
<text transform="matrix(0.83,-0.46,0.65,0.63,55.67,463.38)" x="0" y="3" text-anchor="end" font-family="Liberation Serif" font-size="8" fill="#2a2a2a" stroke="#2a2a2a" stroke-width="0" >973</text>
<text transform="matrix(0.82,-0.47,0.65,0.62,69.05,470.18)" x="0" y="3" text-anchor="end" font-family="Liberation Serif" font-size="8" fill="#2a2a2a" stroke="#2a2a2a" stroke-width="0" >998</text>
<text transform="matrix(0.82,-0.48,0.66,0.62,82.89,477.23)" x="0" y="3" text-anchor="end" font-family="Liberation Serif" font-size="8" fill="#2a2a2a" stroke="#2a2a2a" stroke-width="0" >1023</text>
<text transform="matrix(0.81,-0.5,0.66,0.61,97.23,484.53)" x="0" y="3" text-anchor="end" font-family="Liberation Serif" font-size="8" fill="#2a2a2a" stroke="#2a2a2a" stroke-width="0" >1048</text>
<text transform="matrix(0.8,-0.51,0.67,0.6,112.09,492.09)" x="0" y="3" text-anchor="end" font-family="Liberation Serif" font-size="8" fill="#2a2a2a" stroke="#2a2a2a" stroke-width="0" >1073</text>
<text transform="matrix(0.79,-0.53,0.67,0.6,127.51,499.94)" x="0" y="3" text-anchor="end" font-family="Liberation Serif" font-size="8" fill="#2a2a2a" stroke="#2a2a2a" stroke-width="0" >1098</text>
<text transform="matrix(0.78,-0.54,0.68,0.59,143.51,508.08)" x="0" y="3" text-anchor="end" font-family="Liberation Serif" font-size="8" fill="#2a2a2a" stroke="#2a2a2a" stroke-width="0" >1123</text>
<text transform="matrix(0.77,-0.56,0.68,0.58,160.13,516.54)" x="0" y="3" text-anchor="end" font-family="Liberation Serif" font-size="8" fill="#2a2a2a" stroke="#2a2a2a" stroke-width="0" >1148</text>
<text transform="matrix(0.85,0.43,-0.58,0.75,163.24,516.46)" x="0" y="3" text-anchor="start" font-family="Liberation Serif" font-size="7.8" fill="#333" stroke="#333" stroke-width="0" >0.0</text>
<text transform="matrix(0.86,0.41,-0.57,0.76,184.83,500.68)" x="0" y="3" text-anchor="start" font-family="Liberation Serif" font-size="7.8" fill="#333" stroke="#333" stroke-width="0" >0.2</text>
<text transform="matrix(0.87,0.39,-0.56,0.77,204.99,485.95)" x="0" y="3" text-anchor="start" font-family="Liberation Serif" font-size="7.8" fill="#333" stroke="#333" stroke-width="0" >0.4</text>
<text transform="matrix(0.87,0.37,-0.55,0.77,223.86,472.16)" x="0" y="3" text-anchor="start" font-family="Liberation Serif" font-size="7.8" fill="#333" stroke="#333" stroke-width="0" >0.6</text>
<text transform="matrix(0.88,0.36,-0.54,0.78,241.55,459.22)" x="0" y="3" text-anchor="start" font-family="Liberation Serif" font-size="7.8" fill="#333" stroke="#333" stroke-width="0" >0.8</text>
<text transform="matrix(0.89,0.34,-0.53,0.79,258.18,447.07)" x="0" y="3" text-anchor="start" font-family="Liberation Serif" font-size="7.8" fill="#333" stroke="#333" stroke-width="0" >1.0</text>
<text transform="matrix(0.88,0.47,-0.85,0.53,78.57,498.04)" x="0" y="0" text-anchor="middle" font-family="Liberation Serif" font-size="9.3" fill="#1a1a1a" stroke="#1a1a1a" stroke-width="0.12" >Temperature(K)</text>
<text transform="matrix(0.77,-0.59,0.95,0.74,233.96,488.01)" x="0" y="0" text-anchor="middle" font-family="Liberation Serif" font-size="8.7" fill="#1a1a1a" stroke="#1a1a1a" stroke-width="0.12" >True Strain</text>
<text transform="matrix(0.09,1,-0.97,0.25,18.58,397.05)" x="0" y="0" text-anchor="middle" font-family="Liberation Serif" font-size="10" fill="#1a1a1a" stroke="#1a1a1a" stroke-width="0.12" >True Stress(MPa)</text>
<rect x="163.6" y="293.6" width="130.5" height="44.9" fill="#fff" stroke="#8c8c8c" stroke-width="1"/>
<line x1="164.6" y1="338.8" x2="294.6" y2="338.8" stroke="#9a9a9a" stroke-width="1.2"/>
<text x="171" y="307.4" font-family="Liberation Serif" font-size="10.8" fill="#111" stroke="#111" stroke-width="0.22">Strain rate(&#949;)=0.1s<tspan dx="0.3" dy="-4.2" font-size="6.5">-1</tspan></text>
<circle cx="222.45" cy="300" r="0.65" fill="#111"/>
<line x1="171.1" y1="316.9" x2="194.6" y2="316.9" stroke="#ff0000" stroke-width="3.4" stroke-linecap="round"/>
<text x="197.9" y="320.9" font-family="Liberation Serif" font-size="10.8" fill="#111" stroke="#111" stroke-width="0.22">Experimental values</text>
<line x1="170.4" y1="330.6" x2="195.3" y2="330.6" stroke="#4040ff" stroke-width="1.2"/>
<rect x="180.35" y="328.1" width="5" height="5" fill="#0000ff"/>
<text x="197.9" y="334.5" font-family="Liberation Serif" font-size="10.8" fill="#111" stroke="#111" stroke-width="0.22">Predicted values</text>
<text x="0.5" y="291.6" font-family="Liberation Sans" font-size="18">(c)</text>
<polygon points="350.66,457.19 468.68,516.83 563.31,447.84 450.16,404.05" fill="#80ffff"/>
<polygon points="350.66,457.19 450.16,404.05 449.95,275.44 339.65,312.44" fill="#00ff00"/>
<polygon points="450.16,404.05 563.31,447.84 575,305.47 449.95,275.44" fill="#cccccc"/>
<line x1="349.54" y1="442.52" x2="450.14" y2="390.84" stroke="#000" stroke-opacity="0.38" stroke-width="0.6"/>
<line x1="450.14" y1="390.84" x2="564.49" y2="433.38" stroke="#000" stroke-opacity="0.42" stroke-width="0.6"/>
<line x1="348.4" y1="427.52" x2="450.12" y2="377.38" stroke="#000" stroke-opacity="0.38" stroke-width="0.6"/>
<line x1="450.12" y1="377.38" x2="565.71" y2="418.61" stroke="#000" stroke-opacity="0.42" stroke-width="0.6"/>
<line x1="347.23" y1="412.19" x2="450.1" y2="363.66" stroke="#000" stroke-opacity="0.38" stroke-width="0.6"/>
<line x1="450.1" y1="363.66" x2="566.95" y2="403.51" stroke="#000" stroke-opacity="0.42" stroke-width="0.6"/>
<line x1="346.04" y1="396.5" x2="450.07" y2="349.68" stroke="#000" stroke-opacity="0.38" stroke-width="0.6"/>
<line x1="450.07" y1="349.68" x2="568.22" y2="388.07" stroke="#000" stroke-opacity="0.42" stroke-width="0.6"/>
<line x1="344.82" y1="380.46" x2="450.05" y2="335.41" stroke="#000" stroke-opacity="0.38" stroke-width="0.6"/>
<line x1="450.05" y1="335.41" x2="569.51" y2="372.29" stroke="#000" stroke-opacity="0.42" stroke-width="0.6"/>
<line x1="343.57" y1="364.05" x2="450.02" y2="320.87" stroke="#000" stroke-opacity="0.38" stroke-width="0.6"/>
<line x1="450.02" y1="320.87" x2="570.84" y2="356.16" stroke="#000" stroke-opacity="0.42" stroke-width="0.6"/>
<line x1="342.29" y1="347.25" x2="450" y2="306.03" stroke="#000" stroke-opacity="0.38" stroke-width="0.6"/>
<line x1="450" y1="306.03" x2="572.2" y2="339.65" stroke="#000" stroke-opacity="0.42" stroke-width="0.6"/>
<line x1="340.99" y1="330.05" x2="449.97" y2="290.89" stroke="#000" stroke-opacity="0.38" stroke-width="0.6"/>
<line x1="449.97" y1="290.89" x2="573.58" y2="322.76" stroke="#000" stroke-opacity="0.42" stroke-width="0.6"/>
<line x1="372.93" y1="445.3" x2="364.61" y2="304.06" stroke="#000" stroke-opacity="0.38" stroke-width="0.6"/>
<line x1="372.93" y1="445.3" x2="490.19" y2="501.15" stroke="#000" stroke-opacity="0.55" stroke-width="0.6"/>
<line x1="393.92" y1="434.09" x2="387.98" y2="296.22" stroke="#000" stroke-opacity="0.38" stroke-width="0.6"/>
<line x1="393.92" y1="434.09" x2="510.28" y2="486.5" stroke="#000" stroke-opacity="0.55" stroke-width="0.6"/>
<line x1="413.72" y1="423.51" x2="409.91" y2="288.87" stroke="#000" stroke-opacity="0.38" stroke-width="0.6"/>
<line x1="413.72" y1="423.51" x2="529.09" y2="472.79" stroke="#000" stroke-opacity="0.55" stroke-width="0.6"/>
<line x1="432.44" y1="413.51" x2="430.53" y2="281.95" stroke="#000" stroke-opacity="0.38" stroke-width="0.6"/>
<line x1="432.44" y1="413.51" x2="546.73" y2="459.93" stroke="#000" stroke-opacity="0.55" stroke-width="0.6"/>
<line x1="462.87" y1="408.96" x2="463.84" y2="278.77" stroke="#000" stroke-opacity="0.42" stroke-width="0.6"/>
<line x1="363.68" y1="463.77" x2="462.87" y2="408.96" stroke="#000" stroke-opacity="0.55" stroke-width="0.6"/>
<line x1="475.95" y1="414.03" x2="478.18" y2="282.22" stroke="#000" stroke-opacity="0.42" stroke-width="0.6"/>
<line x1="377.14" y1="470.57" x2="475.95" y2="414.03" stroke="#000" stroke-opacity="0.55" stroke-width="0.6"/>
<line x1="489.42" y1="419.24" x2="493" y2="285.78" stroke="#000" stroke-opacity="0.42" stroke-width="0.6"/>
<line x1="391.07" y1="477.61" x2="489.42" y2="419.24" stroke="#000" stroke-opacity="0.55" stroke-width="0.6"/>
<line x1="503.3" y1="424.62" x2="508.3" y2="289.45" stroke="#000" stroke-opacity="0.42" stroke-width="0.6"/>
<line x1="405.49" y1="484.9" x2="503.3" y2="424.62" stroke="#000" stroke-opacity="0.55" stroke-width="0.6"/>
<line x1="517.61" y1="430.15" x2="524.13" y2="293.25" stroke="#000" stroke-opacity="0.42" stroke-width="0.6"/>
<line x1="420.44" y1="492.45" x2="517.61" y2="430.15" stroke="#000" stroke-opacity="0.55" stroke-width="0.6"/>
<line x1="532.36" y1="435.87" x2="540.5" y2="297.18" stroke="#000" stroke-opacity="0.42" stroke-width="0.6"/>
<line x1="435.93" y1="500.28" x2="532.36" y2="435.87" stroke="#000" stroke-opacity="0.55" stroke-width="0.6"/>
<line x1="547.59" y1="441.76" x2="557.45" y2="301.25" stroke="#000" stroke-opacity="0.42" stroke-width="0.6"/>
<line x1="451.99" y1="508.4" x2="547.59" y2="441.76" stroke="#000" stroke-opacity="0.55" stroke-width="0.6"/>
<polyline points="347.51,328.11 351.89,324.2 355.8,323.24 359.83,324.26 365.89,328.24 371.95,332.23 378.02,336.22 385.99,339.24 396.08,341.88 406.17,344.32 416.16,345.98 426.25,346.85 434.32,346.52 440.68,347.16" fill="none" stroke="#000" stroke-width="0.45" stroke-opacity="0.55"/>
<rect x="346.76" y="327.6" width="1.15" height="1.15" fill="#000" fill-opacity="0.7"/>
<rect x="352.82" y="323.26" width="1.15" height="1.15" fill="#000" fill-opacity="0.7"/>
<rect x="359.1" y="323.65" width="1.15" height="1.15" fill="#000" fill-opacity="0.7"/>
<rect x="365.47" y="327.77" width="1.15" height="1.15" fill="#000" fill-opacity="0.7"/>
<rect x="371.69" y="331.86" width="1.15" height="1.15" fill="#000" fill-opacity="0.7"/>
<rect x="377.76" y="335.76" width="1.15" height="1.15" fill="#000" fill-opacity="0.7"/>
<rect x="383.61" y="337.98" width="1.15" height="1.15" fill="#000" fill-opacity="0.7"/>
<rect x="389.31" y="339.68" width="1.15" height="1.15" fill="#000" fill-opacity="0.7"/>
<rect x="394.89" y="341.14" width="1.15" height="1.15" fill="#000" fill-opacity="0.7"/>
<rect x="400.35" y="342.48" width="1.15" height="1.15" fill="#000" fill-opacity="0.7"/>
<rect x="405.7" y="343.77" width="1.15" height="1.15" fill="#000" fill-opacity="0.7"/>
<rect x="410.94" y="344.64" width="1.15" height="1.15" fill="#000" fill-opacity="0.7"/>
<rect x="416.07" y="345.45" width="1.15" height="1.15" fill="#000" fill-opacity="0.7"/>
<rect x="421.11" y="345.89" width="1.15" height="1.15" fill="#000" fill-opacity="0.7"/>
<rect x="426.05" y="346.27" width="1.15" height="1.15" fill="#000" fill-opacity="0.7"/>
<rect x="430.9" y="346.07" width="1.15" height="1.15" fill="#000" fill-opacity="0.7"/>
<rect x="435.67" y="346.14" width="1.15" height="1.15" fill="#000" fill-opacity="0.7"/>
<rect x="440.36" y="346.48" width="1.15" height="1.15" fill="#000" fill-opacity="0.7"/>
<polyline points="351.64,386.71 357.61,381.7 367.63,375.36 377.58,369.88 387.69,365.92 397.84,362.73 407.92,360.11 418.11,357.49 428.34,355.44 440.56,353.82" fill="none" stroke="#000" stroke-width="0.45" stroke-opacity="0.55"/>
<rect x="350.95" y="386.19" width="1.15" height="1.15" fill="#000" fill-opacity="0.7"/>
<rect x="356.73" y="381.39" width="1.15" height="1.15" fill="#000" fill-opacity="0.7"/>
<rect x="362.51" y="377.67" width="1.15" height="1.15" fill="#000" fill-opacity="0.7"/>
<rect x="368.2" y="374.16" width="1.15" height="1.15" fill="#000" fill-opacity="0.7"/>
<rect x="373.84" y="371.05" width="1.15" height="1.15" fill="#000" fill-opacity="0.7"/>
<rect x="379.42" y="368.37" width="1.15" height="1.15" fill="#000" fill-opacity="0.7"/>
<rect x="384.93" y="366.21" width="1.15" height="1.15" fill="#000" fill-opacity="0.7"/>
<rect x="390.37" y="364.33" width="1.15" height="1.15" fill="#000" fill-opacity="0.7"/>
<rect x="395.73" y="362.65" width="1.15" height="1.15" fill="#000" fill-opacity="0.7"/>
<rect x="401.01" y="361.19" width="1.15" height="1.15" fill="#000" fill-opacity="0.7"/>
<rect x="406.21" y="359.83" width="1.15" height="1.15" fill="#000" fill-opacity="0.7"/>
<rect x="411.33" y="358.52" width="1.15" height="1.15" fill="#000" fill-opacity="0.7"/>
<rect x="416.36" y="357.22" width="1.15" height="1.15" fill="#000" fill-opacity="0.7"/>
<rect x="421.33" y="356.16" width="1.15" height="1.15" fill="#000" fill-opacity="0.7"/>
<rect x="426.21" y="355.18" width="1.15" height="1.15" fill="#000" fill-opacity="0.7"/>
<rect x="431.02" y="354.44" width="1.15" height="1.15" fill="#000" fill-opacity="0.7"/>
<rect x="435.75" y="353.81" width="1.15" height="1.15" fill="#000" fill-opacity="0.7"/>
<rect x="440.41" y="353.06" width="1.15" height="1.15" fill="#000" fill-opacity="0.7"/>
<polyline points="353.17,414.05 360.21,409.38 370.26,402.43 380.26,396.02 390.44,390.44 400.71,386.26 410.95,383.01 421.4,381.07 431.96,380.64 441.41,380.71" fill="none" stroke="#000" stroke-width="0.45" stroke-opacity="0.55"/>
<rect x="352.9" y="413.28" width="1.15" height="1.15" fill="#000" fill-opacity="0.7"/>
<rect x="358.63" y="409.48" width="1.15" height="1.15" fill="#000" fill-opacity="0.7"/>
<rect x="364.27" y="405.61" width="1.15" height="1.15" fill="#000" fill-opacity="0.7"/>
<rect x="369.83" y="401.77" width="1.15" height="1.15" fill="#000" fill-opacity="0.7"/>
<rect x="375.33" y="398.24" width="1.15" height="1.15" fill="#000" fill-opacity="0.7"/>
<rect x="380.76" y="394.86" width="1.15" height="1.15" fill="#000" fill-opacity="0.7"/>
<rect x="386.13" y="391.92" width="1.15" height="1.15" fill="#000" fill-opacity="0.7"/>
<rect x="391.44" y="389.23" width="1.15" height="1.15" fill="#000" fill-opacity="0.7"/>
<rect x="396.69" y="387.1" width="1.15" height="1.15" fill="#000" fill-opacity="0.7"/>
<rect x="401.86" y="385.15" width="1.15" height="1.15" fill="#000" fill-opacity="0.7"/>
<rect x="406.97" y="383.53" width="1.15" height="1.15" fill="#000" fill-opacity="0.7"/>
<rect x="412" y="382.14" width="1.15" height="1.15" fill="#000" fill-opacity="0.7"/>
<rect x="416.96" y="381.22" width="1.15" height="1.15" fill="#000" fill-opacity="0.7"/>
<rect x="421.84" y="380.46" width="1.15" height="1.15" fill="#000" fill-opacity="0.7"/>
<rect x="426.66" y="380.26" width="1.15" height="1.15" fill="#000" fill-opacity="0.7"/>
<rect x="431.39" y="380.07" width="1.15" height="1.15" fill="#000" fill-opacity="0.7"/>
<rect x="436.05" y="380.1" width="1.15" height="1.15" fill="#000" fill-opacity="0.7"/>
<rect x="440.63" y="380.14" width="1.15" height="1.15" fill="#000" fill-opacity="0.7"/>
<polyline points="354.46,424.52 360.58,421.01 366.64,416.4 374.91,412.67 383.08,408.56 395.66,404.04 406.42,403.02 417.02,400.78 427.7,397.53 434.15,395.98 441.09,394.64" fill="none" stroke="#000" stroke-width="0.45" stroke-opacity="0.55"/>
<rect x="353.67" y="424.06" width="1.15" height="1.15" fill="#000" fill-opacity="0.7"/>
<rect x="359.39" y="420.8" width="1.15" height="1.15" fill="#000" fill-opacity="0.7"/>
<rect x="364.96" y="416.67" width="1.15" height="1.15" fill="#000" fill-opacity="0.7"/>
<rect x="370.54" y="413.81" width="1.15" height="1.15" fill="#000" fill-opacity="0.7"/>
<rect x="376.04" y="411.24" width="1.15" height="1.15" fill="#000" fill-opacity="0.7"/>
<rect x="381.46" y="408.52" width="1.15" height="1.15" fill="#000" fill-opacity="0.7"/>
<rect x="386.82" y="406.44" width="1.15" height="1.15" fill="#000" fill-opacity="0.7"/>
<rect x="392.1" y="404.54" width="1.15" height="1.15" fill="#000" fill-opacity="0.7"/>
<rect x="397.32" y="403.26" width="1.15" height="1.15" fill="#000" fill-opacity="0.7"/>
<rect x="402.49" y="402.77" width="1.15" height="1.15" fill="#000" fill-opacity="0.7"/>
<rect x="407.56" y="402.09" width="1.15" height="1.15" fill="#000" fill-opacity="0.7"/>
<rect x="412.53" y="401.04" width="1.15" height="1.15" fill="#000" fill-opacity="0.7"/>
<rect x="417.42" y="399.92" width="1.15" height="1.15" fill="#000" fill-opacity="0.7"/>
<rect x="422.23" y="398.46" width="1.15" height="1.15" fill="#000" fill-opacity="0.7"/>
<rect x="426.96" y="397.01" width="1.15" height="1.15" fill="#000" fill-opacity="0.7"/>
<rect x="431.62" y="395.88" width="1.15" height="1.15" fill="#000" fill-opacity="0.7"/>
<rect x="436.22" y="394.9" width="1.15" height="1.15" fill="#000" fill-opacity="0.7"/>
<rect x="440.74" y="393.96" width="1.15" height="1.15" fill="#000" fill-opacity="0.7"/>
<polyline points="351.08,380.5 356.83,374.86 362.4,367.62 367.97,361.08 373.61,357.07 379.25,354.43 384.88,353.56 390.46,353.76 395.93,353.77 401.32,354.29 406.58,354.08 411.73,353.24 416.8,352.31 421.79,351.84 426.7,351.33 431.55,352.02 436.31,353.14 440.98,353.72" fill="none" stroke="#000" stroke-width="0.45" stroke-opacity="0.55"/>
<rect x="350.51" y="379.93" width="1.15" height="1.15" fill="#000" fill-opacity="0.7"/>
<rect x="356.26" y="374.29" width="1.15" height="1.15" fill="#000" fill-opacity="0.7"/>
<rect x="361.83" y="367.05" width="1.15" height="1.15" fill="#000" fill-opacity="0.7"/>
<rect x="367.4" y="360.51" width="1.15" height="1.15" fill="#000" fill-opacity="0.7"/>
<rect x="373.04" y="356.5" width="1.15" height="1.15" fill="#000" fill-opacity="0.7"/>
<rect x="378.68" y="353.86" width="1.15" height="1.15" fill="#000" fill-opacity="0.7"/>
<rect x="384.31" y="352.99" width="1.15" height="1.15" fill="#000" fill-opacity="0.7"/>
<rect x="389.89" y="353.19" width="1.15" height="1.15" fill="#000" fill-opacity="0.7"/>
<rect x="395.36" y="353.2" width="1.15" height="1.15" fill="#000" fill-opacity="0.7"/>
<rect x="400.75" y="353.72" width="1.15" height="1.15" fill="#000" fill-opacity="0.7"/>
<rect x="406.01" y="353.51" width="1.15" height="1.15" fill="#000" fill-opacity="0.7"/>
<rect x="411.16" y="352.67" width="1.15" height="1.15" fill="#000" fill-opacity="0.7"/>
<rect x="416.23" y="351.74" width="1.15" height="1.15" fill="#000" fill-opacity="0.7"/>
<rect x="421.22" y="351.27" width="1.15" height="1.15" fill="#000" fill-opacity="0.7"/>
<rect x="426.13" y="350.76" width="1.15" height="1.15" fill="#000" fill-opacity="0.7"/>
<rect x="430.98" y="351.45" width="1.15" height="1.15" fill="#000" fill-opacity="0.7"/>
<rect x="435.74" y="352.57" width="1.15" height="1.15" fill="#000" fill-opacity="0.7"/>
<rect x="440.41" y="353.15" width="1.15" height="1.15" fill="#000" fill-opacity="0.7"/>
<polyline points="352.61,401.98 358.34,397.33 363.89,391.24 369.42,385.69 374.94,381.21 380.48,378.74 386.03,378.09 391.49,377.73 396.85,377.36 402.11,376.66 407.28,376.19 412.33,374.41 417.31,372.96 422.2,371.2 427.04,370 431.8,369.72 436.51,370.53 441.13,372.05" fill="none" stroke="#000" stroke-width="0.45" stroke-opacity="0.55"/>
<rect x="352.04" y="401.41" width="1.15" height="1.15" fill="#000" fill-opacity="0.7"/>
<rect x="357.77" y="396.76" width="1.15" height="1.15" fill="#000" fill-opacity="0.7"/>
<rect x="363.32" y="390.67" width="1.15" height="1.15" fill="#000" fill-opacity="0.7"/>
<rect x="368.85" y="385.12" width="1.15" height="1.15" fill="#000" fill-opacity="0.7"/>
<rect x="374.37" y="380.64" width="1.15" height="1.15" fill="#000" fill-opacity="0.7"/>
<rect x="379.91" y="378.17" width="1.15" height="1.15" fill="#000" fill-opacity="0.7"/>
<rect x="385.46" y="377.52" width="1.15" height="1.15" fill="#000" fill-opacity="0.7"/>
<rect x="390.92" y="377.16" width="1.15" height="1.15" fill="#000" fill-opacity="0.7"/>
<rect x="396.28" y="376.79" width="1.15" height="1.15" fill="#000" fill-opacity="0.7"/>
<rect x="401.54" y="376.09" width="1.15" height="1.15" fill="#000" fill-opacity="0.7"/>
<rect x="406.71" y="375.62" width="1.15" height="1.15" fill="#000" fill-opacity="0.7"/>
<rect x="411.76" y="373.84" width="1.15" height="1.15" fill="#000" fill-opacity="0.7"/>
<rect x="416.74" y="372.39" width="1.15" height="1.15" fill="#000" fill-opacity="0.7"/>
<rect x="421.63" y="370.63" width="1.15" height="1.15" fill="#000" fill-opacity="0.7"/>
<rect x="426.47" y="369.43" width="1.15" height="1.15" fill="#000" fill-opacity="0.7"/>
<rect x="431.23" y="369.15" width="1.15" height="1.15" fill="#000" fill-opacity="0.7"/>
<rect x="435.94" y="369.96" width="1.15" height="1.15" fill="#000" fill-opacity="0.7"/>
<rect x="440.56" y="371.48" width="1.15" height="1.15" fill="#000" fill-opacity="0.7"/>
<polyline points="353.9,419.92 359.62,416.43 365.15,411.17 370.64,406.46 376.12,402.74 381.6,400.63 387.04,399.6 392.39,398.59 397.65,397.62 402.83,397.01 407.92,396.09 412.92,395.13 417.84,394.22 422.67,393.17 427.41,391.14 432.1,390.37 436.73,390.22 441.28,391.59" fill="none" stroke="#000" stroke-width="0.45" stroke-opacity="0.55"/>
<rect x="353.33" y="419.35" width="1.15" height="1.15" fill="#000" fill-opacity="0.7"/>
<rect x="359.05" y="415.86" width="1.15" height="1.15" fill="#000" fill-opacity="0.7"/>
<rect x="364.58" y="410.6" width="1.15" height="1.15" fill="#000" fill-opacity="0.7"/>
<rect x="370.07" y="405.89" width="1.15" height="1.15" fill="#000" fill-opacity="0.7"/>
<rect x="375.55" y="402.17" width="1.15" height="1.15" fill="#000" fill-opacity="0.7"/>
<rect x="381.03" y="400.06" width="1.15" height="1.15" fill="#000" fill-opacity="0.7"/>
<rect x="386.47" y="399.03" width="1.15" height="1.15" fill="#000" fill-opacity="0.7"/>
<rect x="391.82" y="398.02" width="1.15" height="1.15" fill="#000" fill-opacity="0.7"/>
<rect x="397.08" y="397.05" width="1.15" height="1.15" fill="#000" fill-opacity="0.7"/>
<rect x="402.26" y="396.44" width="1.15" height="1.15" fill="#000" fill-opacity="0.7"/>
<rect x="407.35" y="395.52" width="1.15" height="1.15" fill="#000" fill-opacity="0.7"/>
<rect x="412.35" y="394.56" width="1.15" height="1.15" fill="#000" fill-opacity="0.7"/>
<rect x="417.27" y="393.65" width="1.15" height="1.15" fill="#000" fill-opacity="0.7"/>
<rect x="422.1" y="392.6" width="1.15" height="1.15" fill="#000" fill-opacity="0.7"/>
<rect x="426.84" y="390.57" width="1.15" height="1.15" fill="#000" fill-opacity="0.7"/>
<rect x="431.53" y="389.8" width="1.15" height="1.15" fill="#000" fill-opacity="0.7"/>
<rect x="436.16" y="389.65" width="1.15" height="1.15" fill="#000" fill-opacity="0.7"/>
<rect x="440.71" y="391.02" width="1.15" height="1.15" fill="#000" fill-opacity="0.7"/>
<line x1="350.66" y1="457.19" x2="339.65" y2="312.44" stroke="#000" stroke-width="0.85"/>
<line x1="350.66" y1="457.19" x2="468.68" y2="516.83" stroke="#000" stroke-width="0.8"/>
<line x1="468.68" y1="516.83" x2="563.31" y2="447.84" stroke="#000" stroke-width="0.8"/>
<line x1="357.11" y1="460.45" x2="359.17" y2="459.34" stroke="#000" stroke-width="0.8"/>
<line x1="363.68" y1="463.77" x2="367.1" y2="461.88" stroke="#000" stroke-width="0.8"/>
<line x1="370.35" y1="467.14" x2="372.41" y2="465.99" stroke="#000" stroke-width="0.8"/>
<line x1="377.14" y1="470.57" x2="380.56" y2="468.62" stroke="#000" stroke-width="0.8"/>
<line x1="384.04" y1="474.06" x2="386.1" y2="472.87" stroke="#000" stroke-width="0.8"/>
<line x1="391.07" y1="477.61" x2="394.48" y2="475.59" stroke="#000" stroke-width="0.8"/>
<line x1="398.22" y1="481.23" x2="400.27" y2="479.99" stroke="#000" stroke-width="0.8"/>
<line x1="405.49" y1="484.9" x2="408.89" y2="482.81" stroke="#000" stroke-width="0.8"/>
<line x1="412.9" y1="488.64" x2="414.94" y2="487.36" stroke="#000" stroke-width="0.8"/>
<line x1="420.44" y1="492.45" x2="423.82" y2="490.28" stroke="#000" stroke-width="0.8"/>
<line x1="428.11" y1="496.33" x2="430.14" y2="495" stroke="#000" stroke-width="0.8"/>
<line x1="435.93" y1="500.28" x2="439.29" y2="498.03" stroke="#000" stroke-width="0.8"/>
<line x1="443.89" y1="504.3" x2="445.91" y2="502.93" stroke="#000" stroke-width="0.8"/>
<line x1="451.99" y1="508.4" x2="455.34" y2="506.07" stroke="#000" stroke-width="0.8"/>
<line x1="460.26" y1="512.58" x2="462.26" y2="511.15" stroke="#000" stroke-width="0.8"/>
<line x1="479.62" y1="508.85" x2="477.19" y2="507.66" stroke="#000" stroke-width="0.8"/>
<line x1="490.19" y1="501.15" x2="486.17" y2="499.23" stroke="#000" stroke-width="0.8"/>
<line x1="500.4" y1="493.7" x2="498" y2="492.59" stroke="#000" stroke-width="0.8"/>
<line x1="510.28" y1="486.5" x2="506.31" y2="484.71" stroke="#000" stroke-width="0.8"/>
<line x1="519.84" y1="479.53" x2="517.47" y2="478.49" stroke="#000" stroke-width="0.8"/>
<line x1="529.09" y1="472.79" x2="525.17" y2="471.12" stroke="#000" stroke-width="0.8"/>
<line x1="538.05" y1="466.26" x2="535.7" y2="465.28" stroke="#000" stroke-width="0.8"/>
<line x1="546.73" y1="459.93" x2="542.86" y2="458.36" stroke="#000" stroke-width="0.8"/>
<line x1="555.14" y1="453.8" x2="552.83" y2="452.88" stroke="#000" stroke-width="0.8"/>
<line x1="350.1" y1="449.9" x2="352.18" y2="448.81" stroke="#000" stroke-width="0.8"/>
<line x1="349.54" y1="442.52" x2="353.01" y2="440.74" stroke="#000" stroke-width="0.8"/>
<line x1="348.97" y1="435.06" x2="351.07" y2="434" stroke="#000" stroke-width="0.8"/>
<line x1="348.4" y1="427.52" x2="351.91" y2="425.79" stroke="#000" stroke-width="0.8"/>
<line x1="347.82" y1="419.9" x2="349.95" y2="418.87" stroke="#000" stroke-width="0.8"/>
<line x1="347.23" y1="412.19" x2="350.79" y2="410.51" stroke="#000" stroke-width="0.8"/>
<line x1="346.64" y1="404.39" x2="348.79" y2="403.4" stroke="#000" stroke-width="0.8"/>
<line x1="346.04" y1="396.5" x2="349.65" y2="394.88" stroke="#000" stroke-width="0.8"/>
<line x1="345.43" y1="388.53" x2="347.61" y2="387.57" stroke="#000" stroke-width="0.8"/>
<line x1="344.82" y1="380.46" x2="348.47" y2="378.9" stroke="#000" stroke-width="0.8"/>
<line x1="344.2" y1="372.3" x2="346.41" y2="371.38" stroke="#000" stroke-width="0.8"/>
<line x1="343.57" y1="364.05" x2="347.27" y2="362.55" stroke="#000" stroke-width="0.8"/>
<line x1="342.94" y1="355.7" x2="345.18" y2="354.81" stroke="#000" stroke-width="0.8"/>
<line x1="342.29" y1="347.25" x2="346.04" y2="345.81" stroke="#000" stroke-width="0.8"/>
<line x1="341.64" y1="338.7" x2="343.91" y2="337.86" stroke="#000" stroke-width="0.8"/>
<line x1="340.99" y1="330.05" x2="344.79" y2="328.69" stroke="#000" stroke-width="0.8"/>
<line x1="340.32" y1="321.3" x2="342.62" y2="320.5" stroke="#000" stroke-width="0.8"/>
<polyline points="361.6,332.9 366,328.9 369.9,327.9 373.9,328.9 379.9,332.9 385.9,336.9 391.9,340.9 399.8,343.9 409.8,346.5 419.8,348.9 429.7,350.5 439.7,351.3 447.7,350.9 454,351.5" fill="none" stroke="#ff0000" stroke-width="3.7" stroke-linecap="round" stroke-linejoin="round"/>
<polyline points="378.86,391.78 384.64,385.88 390.29,378.32 395.9,371.5 401.55,367.28 407.16,364.46 412.73,363.47 418.23,363.58 423.62,363.5 428.92,363.94 434.11,363.64 439.19,362.7 444.19,361.65 449.11,361.09 453.94,360.47 458.68,361.1 463.34,362.17 467.91,362.69" fill="none" stroke="#2020ff" stroke-width="0.8"/>
<circle cx="378.86" cy="391.78" r="2.2" fill="#0000ff"/>
<circle cx="384.64" cy="385.88" r="2.2" fill="#0000ff"/>
<circle cx="390.29" cy="378.32" r="2.2" fill="#0000ff"/>
<circle cx="395.9" cy="371.5" r="2.2" fill="#0000ff"/>
<circle cx="401.55" cy="367.28" r="2.2" fill="#0000ff"/>
<circle cx="407.16" cy="364.46" r="2.2" fill="#0000ff"/>
<circle cx="412.73" cy="363.47" r="2.2" fill="#0000ff"/>
<circle cx="418.23" cy="363.58" r="2.2" fill="#0000ff"/>
<circle cx="423.62" cy="363.5" r="2.2" fill="#0000ff"/>
<circle cx="428.92" cy="363.94" r="2.2" fill="#0000ff"/>
<circle cx="434.11" cy="363.64" r="2.2" fill="#0000ff"/>
<circle cx="439.19" cy="362.7" r="2.2" fill="#0000ff"/>
<circle cx="444.19" cy="361.65" r="2.2" fill="#0000ff"/>
<circle cx="449.11" cy="361.09" r="2.2" fill="#0000ff"/>
<circle cx="453.94" cy="360.47" r="2.2" fill="#0000ff"/>
<circle cx="458.68" cy="361.1" r="2.2" fill="#0000ff"/>
<circle cx="463.34" cy="362.17" r="2.2" fill="#0000ff"/>
<circle cx="467.91" cy="362.69" r="2.2" fill="#0000ff"/>
<polyline points="393.9,404.2 399.9,398.8 409.9,391.9 419.8,385.9 429.8,381.5 439.8,377.9 449.7,374.9 459.7,371.9 469.7,369.5 481.6,367.5" fill="none" stroke="#ff0000" stroke-width="3.7" stroke-linecap="round" stroke-linejoin="round"/>
<polyline points="409.41,426.58 415.16,421.41 420.79,414.75 426.36,408.66 431.89,403.7 437.36,400.87 442.75,399.97 448.05,399.37 453.24,398.77 458.34,397.83 463.34,397.13 468.27,395.06 473.11,393.34 477.88,391.3 482.56,389.86 487.14,389.38 491.61,390.05 495.97,391.47" fill="none" stroke="#2020ff" stroke-width="0.8"/>
<circle cx="409.41" cy="426.58" r="2.2" fill="#0000ff"/>
<circle cx="415.16" cy="421.41" r="2.2" fill="#0000ff"/>
<circle cx="420.79" cy="414.75" r="2.2" fill="#0000ff"/>
<circle cx="426.36" cy="408.66" r="2.2" fill="#0000ff"/>
<circle cx="431.89" cy="403.7" r="2.2" fill="#0000ff"/>
<circle cx="437.36" cy="400.87" r="2.2" fill="#0000ff"/>
<circle cx="442.75" cy="399.97" r="2.2" fill="#0000ff"/>
<circle cx="448.05" cy="399.37" r="2.2" fill="#0000ff"/>
<circle cx="453.24" cy="398.77" r="2.2" fill="#0000ff"/>
<circle cx="458.34" cy="397.83" r="2.2" fill="#0000ff"/>
<circle cx="463.34" cy="397.13" r="2.2" fill="#0000ff"/>
<circle cx="468.27" cy="395.06" r="2.2" fill="#0000ff"/>
<circle cx="473.11" cy="393.34" r="2.2" fill="#0000ff"/>
<circle cx="477.88" cy="391.3" r="2.2" fill="#0000ff"/>
<circle cx="482.56" cy="389.86" r="2.2" fill="#0000ff"/>
<circle cx="487.14" cy="389.38" r="2.2" fill="#0000ff"/>
<circle cx="491.61" cy="390.05" r="2.2" fill="#0000ff"/>
<circle cx="495.97" cy="391.47" r="2.2" fill="#0000ff"/>
<polyline points="424.9,446.2 431.9,440.8 441.9,432.8 451.8,425.4 461.8,418.9 471.8,413.9 481.7,409.9 491.7,407.3 501.7,406.3 510.6,405.9" fill="none" stroke="#ff0000" stroke-width="3.7" stroke-linecap="round" stroke-linejoin="round"/>
<polyline points="441.21,459.67 446.87,455.48 452.43,449.38 457.92,443.89 463.33,439.48 468.64,436.82 473.84,435.34 478.93,433.88 483.94,432.48 488.84,431.48 493.66,430.14 498.39,428.78 503.04,427.48 507.61,426.02 512.14,423.54 516.55,422.4 520.84,421.94 524.97,423.11" fill="none" stroke="#2020ff" stroke-width="0.8"/>
<circle cx="441.21" cy="459.67" r="2.2" fill="#0000ff"/>
<circle cx="446.87" cy="455.48" r="2.2" fill="#0000ff"/>
<circle cx="452.43" cy="449.38" r="2.2" fill="#0000ff"/>
<circle cx="457.92" cy="443.89" r="2.2" fill="#0000ff"/>
<circle cx="463.33" cy="439.48" r="2.2" fill="#0000ff"/>
<circle cx="468.64" cy="436.82" r="2.2" fill="#0000ff"/>
<circle cx="473.84" cy="435.34" r="2.2" fill="#0000ff"/>
<circle cx="478.93" cy="433.88" r="2.2" fill="#0000ff"/>
<circle cx="483.94" cy="432.48" r="2.2" fill="#0000ff"/>
<circle cx="488.84" cy="431.48" r="2.2" fill="#0000ff"/>
<circle cx="493.66" cy="430.14" r="2.2" fill="#0000ff"/>
<circle cx="498.39" cy="428.78" r="2.2" fill="#0000ff"/>
<circle cx="503.04" cy="427.48" r="2.2" fill="#0000ff"/>
<circle cx="507.61" cy="426.02" r="2.2" fill="#0000ff"/>
<circle cx="512.14" cy="423.54" r="2.2" fill="#0000ff"/>
<circle cx="516.55" cy="422.4" r="2.2" fill="#0000ff"/>
<circle cx="520.84" cy="421.94" r="2.2" fill="#0000ff"/>
<circle cx="524.97" cy="423.11" r="2.2" fill="#0000ff"/>
<polyline points="457.9,472.2 463.9,467.8 469.9,462.2 477.9,457.4 485.8,452.2 497.8,446.2 507.8,444.2 517.7,440.9 527.7,436.5 533.7,434.3 540.1,432.3" fill="none" stroke="#ff0000" stroke-width="3.7" stroke-linecap="round" stroke-linejoin="round"/>
<text transform="matrix(0.75,-0.4,0.08,1,350.66,457.19)" x="-1.6" y="3.4" text-anchor="end" font-family="Liberation Serif" font-size="9.5" fill="#1a1a1a" stroke="#1a1a1a" stroke-width="0.12" >100</text>
<text transform="matrix(0.76,-0.39,0.08,1,349.54,442.52)" x="-1.6" y="3.4" text-anchor="end" font-family="Liberation Serif" font-size="9.5" fill="#1a1a1a" stroke="#1a1a1a" stroke-width="0.12" >150</text>
<text transform="matrix(0.76,-0.38,0.08,1,348.4,427.52)" x="-1.6" y="3.4" text-anchor="end" font-family="Liberation Serif" font-size="9.5" fill="#1a1a1a" stroke="#1a1a1a" stroke-width="0.12" >200</text>
<text transform="matrix(0.77,-0.36,0.08,1,347.23,412.19)" x="-1.6" y="3.4" text-anchor="end" font-family="Liberation Serif" font-size="9.5" fill="#1a1a1a" stroke="#1a1a1a" stroke-width="0.12" >250</text>
<text transform="matrix(0.78,-0.35,0.08,1,346.04,396.5)" x="-1.6" y="3.4" text-anchor="end" font-family="Liberation Serif" font-size="9.5" fill="#1a1a1a" stroke="#1a1a1a" stroke-width="0.12" >300</text>
<text transform="matrix(0.78,-0.33,0.08,1,344.82,380.46)" x="-1.6" y="3.4" text-anchor="end" font-family="Liberation Serif" font-size="9.5" fill="#1a1a1a" stroke="#1a1a1a" stroke-width="0.12" >350</text>
<text transform="matrix(0.79,-0.32,0.08,1,343.57,364.05)" x="-1.6" y="3.4" text-anchor="end" font-family="Liberation Serif" font-size="9.5" fill="#1a1a1a" stroke="#1a1a1a" stroke-width="0.12" >400</text>
<text transform="matrix(0.79,-0.3,0.08,1,342.29,347.25)" x="-1.6" y="3.4" text-anchor="end" font-family="Liberation Serif" font-size="9.5" fill="#1a1a1a" stroke="#1a1a1a" stroke-width="0.12" >450</text>
<text transform="matrix(0.8,-0.29,0.08,1,340.99,330.05)" x="-1.6" y="3.4" text-anchor="end" font-family="Liberation Serif" font-size="9.5" fill="#1a1a1a" stroke="#1a1a1a" stroke-width="0.12" >500</text>
<text transform="matrix(0.81,-0.27,0.08,1,339.65,312.44)" x="-1.6" y="3.4" text-anchor="end" font-family="Liberation Serif" font-size="9.5" fill="#1a1a1a" stroke="#1a1a1a" stroke-width="0.12" >550</text>
<text transform="matrix(0.83,-0.46,0.65,0.63,362.3,464.53)" x="0" y="3" text-anchor="end" font-family="Liberation Serif" font-size="8" fill="#2a2a2a" stroke="#2a2a2a" stroke-width="0" >973</text>
<text transform="matrix(0.82,-0.47,0.65,0.62,375.76,471.36)" x="0" y="3" text-anchor="end" font-family="Liberation Serif" font-size="8" fill="#2a2a2a" stroke="#2a2a2a" stroke-width="0" >998</text>
<text transform="matrix(0.82,-0.48,0.66,0.61,389.7,478.43)" x="0" y="3" text-anchor="end" font-family="Liberation Serif" font-size="8" fill="#2a2a2a" stroke="#2a2a2a" stroke-width="0" >1023</text>
<text transform="matrix(0.81,-0.5,0.66,0.61,404.12,485.75)" x="0" y="3" text-anchor="end" font-family="Liberation Serif" font-size="8" fill="#2a2a2a" stroke="#2a2a2a" stroke-width="0" >1048</text>
<text transform="matrix(0.8,-0.51,0.67,0.6,419.07,493.33)" x="0" y="3" text-anchor="end" font-family="Liberation Serif" font-size="8" fill="#2a2a2a" stroke="#2a2a2a" stroke-width="0" >1073</text>
<text transform="matrix(0.79,-0.53,0.67,0.6,434.57,501.19)" x="0" y="3" text-anchor="end" font-family="Liberation Serif" font-size="8" fill="#2a2a2a" stroke="#2a2a2a" stroke-width="0" >1098</text>
<text transform="matrix(0.78,-0.54,0.68,0.59,450.65,509.34)" x="0" y="3" text-anchor="end" font-family="Liberation Serif" font-size="8" fill="#2a2a2a" stroke="#2a2a2a" stroke-width="0" >1123</text>
<text transform="matrix(0.77,-0.56,0.69,0.58,467.34,517.81)" x="0" y="3" text-anchor="end" font-family="Liberation Serif" font-size="8" fill="#2a2a2a" stroke="#2a2a2a" stroke-width="0" >1148</text>
<text transform="matrix(0.85,0.43,-0.58,0.75,470.45,517.72)" x="0" y="3" text-anchor="start" font-family="Liberation Serif" font-size="7.8" fill="#333" stroke="#333" stroke-width="0" >0.0</text>
<text transform="matrix(0.86,0.41,-0.57,0.76,491.94,501.98)" x="0" y="3" text-anchor="start" font-family="Liberation Serif" font-size="7.8" fill="#333" stroke="#333" stroke-width="0" >0.2</text>
<text transform="matrix(0.87,0.39,-0.56,0.77,512.01,487.28)" x="0" y="3" text-anchor="start" font-family="Liberation Serif" font-size="7.8" fill="#333" stroke="#333" stroke-width="0" >0.4</text>
<text transform="matrix(0.87,0.37,-0.55,0.78,530.8,473.52)" x="0" y="3" text-anchor="start" font-family="Liberation Serif" font-size="7.8" fill="#333" stroke="#333" stroke-width="0" >0.6</text>
<text transform="matrix(0.88,0.36,-0.54,0.78,548.41,460.62)" x="0" y="3" text-anchor="start" font-family="Liberation Serif" font-size="7.8" fill="#333" stroke="#333" stroke-width="0" >0.8</text>
<text transform="matrix(0.89,0.34,-0.53,0.79,564.97,448.49)" x="0" y="3" text-anchor="start" font-family="Liberation Serif" font-size="7.8" fill="#333" stroke="#333" stroke-width="0" >1.0</text>
<text transform="matrix(0.88,0.47,-0.85,0.53,385.54,499.25)" x="0" y="0" text-anchor="middle" font-family="Liberation Serif" font-size="9.3" fill="#1a1a1a" stroke="#1a1a1a" stroke-width="0.12" >Temperature(K)</text>
<text transform="matrix(0.77,-0.59,0.95,0.74,540.99,489.37)" x="0" y="0" text-anchor="middle" font-family="Liberation Serif" font-size="8.7" fill="#1a1a1a" stroke="#1a1a1a" stroke-width="0.12" >True Strain</text>
<text transform="matrix(0.09,1,-0.97,0.25,324.9,398.31)" x="0" y="0" text-anchor="middle" font-family="Liberation Serif" font-size="10" fill="#1a1a1a" stroke="#1a1a1a" stroke-width="0.12" >True Stress(MPa)</text>
<rect x="470.5" y="294.3" width="128.6" height="45.4" fill="#fff" stroke="#8c8c8c" stroke-width="1"/>
<line x1="471.5" y1="340" x2="599.6" y2="340" stroke="#9a9a9a" stroke-width="1.2"/>
<text x="477.9" y="308.6" font-family="Liberation Serif" font-size="10.8" fill="#111" stroke="#111" stroke-width="0.22">Strain rate(&#949;)=1s<tspan dx="0.3" dy="-4.2" font-size="6.5">-1</tspan></text>
<circle cx="529.35" cy="301.2" r="0.65" fill="#111"/>
<line x1="478" y1="318.5" x2="501.5" y2="318.5" stroke="#ff0000" stroke-width="3.4" stroke-linecap="round"/>
<text x="504.8" y="322.3" font-family="Liberation Serif" font-size="10.8" fill="#111" stroke="#111" stroke-width="0.22">Experimental values</text>
<line x1="477.3" y1="332" x2="502.2" y2="332" stroke="#8080ff" stroke-width="1.2"/>
<rect x="487.25" y="329.5" width="5" height="5" fill="#0000ff"/>
<text x="504.8" y="335.8" font-family="Liberation Serif" font-size="10.8" fill="#111" stroke="#111" stroke-width="0.22">Predicted values</text>
<text x="306.5" y="292.7" font-family="Liberation Sans" font-size="18">(d)</text>
</svg>
</body></html>
